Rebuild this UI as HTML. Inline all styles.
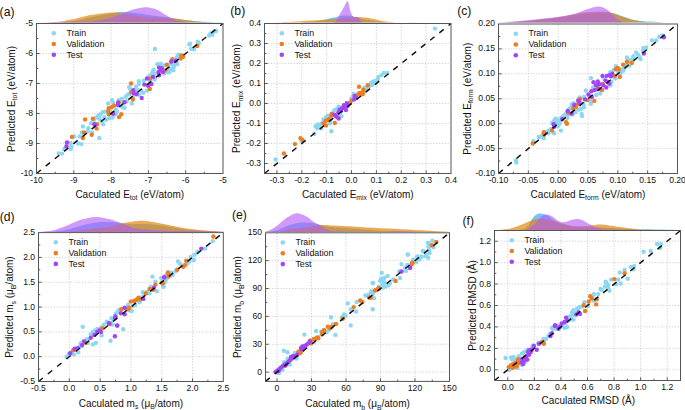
<!DOCTYPE html>
<html><head><meta charset="utf-8"><style>
html,body{margin:0;padding:0;background:#fff;}
body{width:685px;height:410px;overflow:hidden;}
svg{display:block;}
text{font-family:"Liberation Sans", sans-serif;fill:#111;}
</style></head><body>
<svg width="685" height="410" viewBox="0 0 685 410">
<rect width="685" height="410" fill="#fff"/>
<path d="M36.50,22.60 C40.42,22.57 54.42,22.57 60.00,22.40 C65.58,22.23 66.67,21.98 70.00,21.60 C73.33,21.22 75.83,20.93 80.00,20.10 C84.17,19.27 90.33,17.60 95.00,16.60 C99.67,15.60 103.67,14.90 108.00,14.10 C112.33,13.30 116.50,11.97 121.00,11.80 C125.50,11.63 131.00,12.67 135.00,13.10 C139.00,13.53 141.67,13.97 145.00,14.40 C148.33,14.83 150.83,15.13 155.00,15.70 C159.17,16.27 165.00,17.07 170.00,17.80 C175.00,18.53 180.00,19.47 185.00,20.10 C190.00,20.73 193.72,21.20 200.00,21.60 C206.28,22.00 218.92,22.35 222.70,22.50 L222.70,22.60 L36.50,22.60 Z" fill="#1e99ff" fill-opacity="0.6" stroke="none"/>
<path d="M36.50,22.60 C38.75,22.53 45.52,22.43 50.00,22.20 C54.48,21.97 58.40,21.97 63.40,21.20 C68.40,20.43 75.42,18.63 80.00,17.60 C84.58,16.57 86.23,15.82 90.90,15.00 C95.57,14.18 103.23,13.05 108.00,12.70 C112.77,12.35 116.83,12.75 119.50,12.90 C122.17,13.05 121.42,13.13 124.00,13.60 C126.58,14.07 131.50,15.15 135.00,15.70 C138.50,16.25 141.67,16.58 145.00,16.90 C148.33,17.22 151.67,17.45 155.00,17.60 C158.33,17.75 162.33,17.73 165.00,17.80 C167.67,17.87 168.50,17.77 171.00,18.00 C173.50,18.23 176.83,18.77 180.00,19.20 C183.17,19.63 186.67,20.17 190.00,20.60 C193.33,21.03 196.33,21.48 200.00,21.80 C203.67,22.12 208.22,22.37 212.00,22.50 C215.78,22.63 220.92,22.58 222.70,22.60 L222.70,22.60 L36.50,22.60 Z" fill="#e2860c" fill-opacity="0.7" stroke="none"/>
<path d="M36.50,22.50 C39.85,22.40 49.35,22.05 56.60,21.90 C63.85,21.75 73.60,21.75 80.00,21.60 C86.40,21.45 90.33,21.53 95.00,21.00 C99.67,20.47 103.92,19.42 108.00,18.40 C112.08,17.38 116.33,16.00 119.50,14.90 C122.67,13.80 124.42,12.78 127.00,11.80 C129.58,10.82 132.00,9.77 135.00,9.00 C138.00,8.23 141.83,7.27 145.00,7.20 C148.17,7.13 151.40,7.83 154.00,8.60 C156.60,9.37 158.68,10.77 160.60,11.80 C162.52,12.83 163.78,13.78 165.50,14.80 C167.22,15.82 169.15,16.97 170.90,17.90 C172.65,18.83 173.98,19.75 176.00,20.40 C178.02,21.05 179.83,21.43 183.00,21.80 C186.17,22.17 188.38,22.47 195.00,22.60 C201.62,22.73 218.08,22.60 222.70,22.60 L222.70,22.60 L36.50,22.60 Z" fill="#b157f7" fill-opacity="0.6" stroke="none"/>
<path d="M73.80,24.00V170.00M111.10,24.00V170.00M148.40,24.00V170.00M185.70,24.00V170.00M40.00,143.50H222.50M40.00,113.50H222.50M40.00,83.50H222.50M40.00,53.50H222.50" stroke="#c8c8c8" stroke-width="0.8" stroke-dasharray="1.3 1.55" fill="none"/>
<circle cx="58.8" cy="153.4" r="2.2" fill="#8dd7f2"/>
<circle cx="62.1" cy="153.6" r="2.2" fill="#8dd7f2"/>
<circle cx="64.3" cy="149.0" r="2.2" fill="#8dd7f2"/>
<circle cx="70.3" cy="143.0" r="2.2" fill="#8dd7f2"/>
<circle cx="71.4" cy="146.8" r="2.2" fill="#8dd7f2"/>
<circle cx="70.8" cy="149.0" r="2.2" fill="#8dd7f2"/>
<circle cx="78.0" cy="143.5" r="2.2" fill="#8dd7f2"/>
<circle cx="81.3" cy="144.1" r="2.2" fill="#8dd7f2"/>
<circle cx="74.1" cy="136.4" r="2.2" fill="#8dd7f2"/>
<circle cx="79.6" cy="136.4" r="2.2" fill="#8dd7f2"/>
<circle cx="81.8" cy="132.5" r="2.2" fill="#8dd7f2"/>
<circle cx="82.9" cy="126.5" r="2.2" fill="#8dd7f2"/>
<circle cx="88.4" cy="128.2" r="2.2" fill="#8dd7f2"/>
<circle cx="87.8" cy="131.5" r="2.2" fill="#8dd7f2"/>
<circle cx="92.2" cy="132.5" r="2.2" fill="#8dd7f2"/>
<circle cx="91.1" cy="123.2" r="2.2" fill="#8dd7f2"/>
<circle cx="93.9" cy="119.9" r="2.2" fill="#8dd7f2"/>
<circle cx="99.4" cy="138.0" r="2.2" fill="#8dd7f2"/>
<circle cx="129.1" cy="87.1" r="2.2" fill="#8dd7f2"/>
<circle cx="154.9" cy="49.0" r="2.2" fill="#8dd7f2"/>
<circle cx="190.0" cy="43.8" r="2.2" fill="#8dd7f2"/>
<circle cx="191.1" cy="48.7" r="2.2" fill="#8dd7f2"/>
<circle cx="193.9" cy="49.3" r="2.2" fill="#8dd7f2"/>
<circle cx="197.7" cy="41.6" r="2.2" fill="#8dd7f2"/>
<circle cx="198.8" cy="43.2" r="2.2" fill="#8dd7f2"/>
<circle cx="209.2" cy="35.5" r="2.2" fill="#8dd7f2"/>
<circle cx="178.5" cy="54.7" r="2.2" fill="#8dd7f2"/>
<circle cx="181.8" cy="55.3" r="2.2" fill="#8dd7f2"/>
<circle cx="176.3" cy="61.3" r="2.2" fill="#8dd7f2"/>
<circle cx="177.4" cy="64.1" r="2.2" fill="#8dd7f2"/>
<circle cx="210.6" cy="33.5" r="2.2" fill="#8dd7f2"/>
<circle cx="212.3" cy="34.8" r="2.2" fill="#8dd7f2"/>
<circle cx="214.0" cy="31.4" r="2.2" fill="#8dd7f2"/>
<circle cx="216.1" cy="31.0" r="2.2" fill="#8dd7f2"/>
<circle cx="160.7" cy="63.7" r="2.2" fill="#8dd7f2"/>
<circle cx="163.5" cy="65.4" r="2.2" fill="#8dd7f2"/>
<circle cx="153.6" cy="69.8" r="2.2" fill="#8dd7f2"/>
<circle cx="152.5" cy="72.0" r="2.2" fill="#8dd7f2"/>
<circle cx="154.7" cy="73.6" r="2.2" fill="#8dd7f2"/>
<circle cx="151.4" cy="74.7" r="2.2" fill="#8dd7f2"/>
<circle cx="149.2" cy="76.3" r="2.2" fill="#8dd7f2"/>
<circle cx="150.3" cy="80.2" r="2.2" fill="#8dd7f2"/>
<circle cx="154.7" cy="79.6" r="2.2" fill="#8dd7f2"/>
<circle cx="143.7" cy="80.7" r="2.2" fill="#8dd7f2"/>
<circle cx="138.8" cy="81.3" r="2.2" fill="#8dd7f2"/>
<circle cx="138.8" cy="84.0" r="2.2" fill="#8dd7f2"/>
<circle cx="136.0" cy="86.8" r="2.2" fill="#8dd7f2"/>
<circle cx="141.0" cy="90.6" r="2.2" fill="#8dd7f2"/>
<circle cx="147.0" cy="90.6" r="2.2" fill="#8dd7f2"/>
<circle cx="143.2" cy="92.8" r="2.2" fill="#8dd7f2"/>
<circle cx="167.9" cy="69.2" r="2.2" fill="#8dd7f2"/>
<circle cx="169.5" cy="72.0" r="2.2" fill="#8dd7f2"/>
<circle cx="173.9" cy="66.5" r="2.2" fill="#8dd7f2"/>
<circle cx="173.4" cy="70.3" r="2.2" fill="#8dd7f2"/>
<circle cx="164.0" cy="73.6" r="2.2" fill="#8dd7f2"/>
<circle cx="157.4" cy="64.3" r="2.2" fill="#8dd7f2"/>
<circle cx="170.6" cy="63.2" r="2.2" fill="#8dd7f2"/>
<circle cx="173.4" cy="63.2" r="2.2" fill="#8dd7f2"/>
<circle cx="96.1" cy="117.6" r="2.2" fill="#8dd7f2"/>
<circle cx="98.3" cy="115.4" r="2.2" fill="#8dd7f2"/>
<circle cx="100.5" cy="114.3" r="2.2" fill="#8dd7f2"/>
<circle cx="99.4" cy="118.7" r="2.2" fill="#8dd7f2"/>
<circle cx="102.7" cy="112.1" r="2.2" fill="#8dd7f2"/>
<circle cx="104.9" cy="111.6" r="2.2" fill="#8dd7f2"/>
<circle cx="101.6" cy="120.9" r="2.2" fill="#8dd7f2"/>
<circle cx="103.2" cy="124.2" r="2.2" fill="#8dd7f2"/>
<circle cx="104.3" cy="117.1" r="2.2" fill="#8dd7f2"/>
<circle cx="106.0" cy="119.8" r="2.2" fill="#8dd7f2"/>
<circle cx="109.3" cy="118.2" r="2.2" fill="#8dd7f2"/>
<circle cx="112.6" cy="117.6" r="2.2" fill="#8dd7f2"/>
<circle cx="108.2" cy="103.4" r="2.2" fill="#8dd7f2"/>
<circle cx="112.0" cy="100.1" r="2.2" fill="#8dd7f2"/>
<circle cx="113.1" cy="102.8" r="2.2" fill="#8dd7f2"/>
<circle cx="115.9" cy="109.4" r="2.2" fill="#8dd7f2"/>
<circle cx="117.0" cy="111.6" r="2.2" fill="#8dd7f2"/>
<circle cx="115.9" cy="114.3" r="2.2" fill="#8dd7f2"/>
<circle cx="118.6" cy="100.1" r="2.2" fill="#8dd7f2"/>
<circle cx="121.9" cy="99.0" r="2.2" fill="#8dd7f2"/>
<circle cx="122.4" cy="107.2" r="2.2" fill="#8dd7f2"/>
<circle cx="124.6" cy="107.8" r="2.2" fill="#8dd7f2"/>
<circle cx="125.7" cy="96.8" r="2.2" fill="#8dd7f2"/>
<circle cx="127.9" cy="94.6" r="2.2" fill="#8dd7f2"/>
<circle cx="126.8" cy="101.2" r="2.2" fill="#8dd7f2"/>
<circle cx="130.1" cy="89.1" r="2.2" fill="#8dd7f2"/>
<circle cx="129.6" cy="94.0" r="2.2" fill="#8dd7f2"/>
<circle cx="131.8" cy="103.4" r="2.2" fill="#8dd7f2"/>
<circle cx="132.9" cy="97.9" r="2.2" fill="#8dd7f2"/>
<circle cx="136.7" cy="94.6" r="2.2" fill="#8dd7f2"/>
<circle cx="137.8" cy="90.2" r="2.2" fill="#8dd7f2"/>
<circle cx="138.9" cy="94.6" r="2.2" fill="#8dd7f2"/>
<circle cx="122.4" cy="102.3" r="2.2" fill="#8dd7f2"/>
<circle cx="120.8" cy="105.6" r="2.2" fill="#8dd7f2"/>
<circle cx="110.4" cy="112.1" r="2.2" fill="#8dd7f2"/>
<circle cx="176.7" cy="57.6" r="2.2" fill="#8dd7f2"/>
<circle cx="177.7" cy="55.6" r="2.2" fill="#8dd7f2"/>
<circle cx="174.8" cy="63.4" r="2.2" fill="#8dd7f2"/>
<circle cx="170.9" cy="64.4" r="2.2" fill="#8dd7f2"/>
<circle cx="172.8" cy="69.3" r="2.2" fill="#8dd7f2"/>
<circle cx="167.0" cy="71.2" r="2.2" fill="#8dd7f2"/>
<circle cx="167.9" cy="72.2" r="2.2" fill="#8dd7f2"/>
<circle cx="170.4" cy="69.3" r="2.2" fill="#8dd7f2"/>
<circle cx="189.4" cy="44.4" r="2.2" fill="#8dd7f2"/>
<circle cx="85.1" cy="119.4" r="2.2" fill="#ee7d22"/>
<circle cx="92.8" cy="118.8" r="2.2" fill="#ee7d22"/>
<circle cx="71.9" cy="136.9" r="2.2" fill="#ee7d22"/>
<circle cx="84.0" cy="132.5" r="2.2" fill="#ee7d22"/>
<circle cx="82.9" cy="138.0" r="2.2" fill="#ee7d22"/>
<circle cx="91.7" cy="134.7" r="2.2" fill="#ee7d22"/>
<circle cx="197.2" cy="46.0" r="2.2" fill="#ee7d22"/>
<circle cx="181.3" cy="55.8" r="2.2" fill="#ee7d22"/>
<circle cx="182.9" cy="56.9" r="2.2" fill="#ee7d22"/>
<circle cx="180.7" cy="58.6" r="2.2" fill="#ee7d22"/>
<circle cx="166.8" cy="64.8" r="2.2" fill="#ee7d22"/>
<circle cx="165.1" cy="70.3" r="2.2" fill="#ee7d22"/>
<circle cx="172.3" cy="59.3" r="2.2" fill="#ee7d22"/>
<circle cx="150.3" cy="78.5" r="2.2" fill="#ee7d22"/>
<circle cx="149.8" cy="89.0" r="2.2" fill="#ee7d22"/>
<circle cx="131.1" cy="83.5" r="2.2" fill="#ee7d22"/>
<circle cx="108.7" cy="108.3" r="2.2" fill="#ee7d22"/>
<circle cx="111.5" cy="107.2" r="2.2" fill="#ee7d22"/>
<circle cx="114.2" cy="105.6" r="2.2" fill="#ee7d22"/>
<circle cx="108.2" cy="111.1" r="2.2" fill="#ee7d22"/>
<circle cx="108.7" cy="114.3" r="2.2" fill="#ee7d22"/>
<circle cx="118.6" cy="102.3" r="2.2" fill="#ee7d22"/>
<circle cx="121.3" cy="114.3" r="2.2" fill="#ee7d22"/>
<circle cx="119.1" cy="117.1" r="2.2" fill="#ee7d22"/>
<circle cx="132.9" cy="99.5" r="2.2" fill="#ee7d22"/>
<circle cx="131.2" cy="92.4" r="2.2" fill="#ee7d22"/>
<circle cx="97.2" cy="124.2" r="2.2" fill="#ee7d22"/>
<circle cx="96.6" cy="128.6" r="2.2" fill="#ee7d22"/>
<circle cx="67.0" cy="142.4" r="2.2" fill="#a345f5"/>
<circle cx="66.5" cy="146.3" r="2.2" fill="#a345f5"/>
<circle cx="94.4" cy="124.3" r="2.2" fill="#a345f5"/>
<circle cx="141.7" cy="98.0" r="2.2" fill="#a345f5"/>
<circle cx="175.8" cy="60.8" r="2.2" fill="#a345f5"/>
<circle cx="159.1" cy="67.6" r="2.2" fill="#a345f5"/>
<circle cx="161.8" cy="68.1" r="2.2" fill="#a345f5"/>
<circle cx="160.7" cy="70.3" r="2.2" fill="#a345f5"/>
<circle cx="158.5" cy="72.0" r="2.2" fill="#a345f5"/>
<circle cx="159.1" cy="75.2" r="2.2" fill="#a345f5"/>
<circle cx="162.9" cy="72.0" r="2.2" fill="#a345f5"/>
<circle cx="153.1" cy="76.9" r="2.2" fill="#a345f5"/>
<circle cx="147.0" cy="78.5" r="2.2" fill="#a345f5"/>
<circle cx="144.3" cy="84.6" r="2.2" fill="#a345f5"/>
<circle cx="148.1" cy="85.7" r="2.2" fill="#a345f5"/>
<circle cx="151.4" cy="84.0" r="2.2" fill="#a345f5"/>
<circle cx="171.2" cy="61.5" r="2.2" fill="#a345f5"/>
<circle cx="118.1" cy="102.8" r="2.2" fill="#a345f5"/>
<circle cx="118.1" cy="105.0" r="2.2" fill="#a345f5"/>
<circle cx="124.6" cy="102.3" r="2.2" fill="#a345f5"/>
<circle cx="113.1" cy="113.8" r="2.2" fill="#a345f5"/>
<circle cx="133.4" cy="90.2" r="2.2" fill="#a345f5"/>
<circle cx="134.0" cy="93.5" r="2.2" fill="#a345f5"/>
<circle cx="136.7" cy="94.0" r="2.2" fill="#a345f5"/>
<circle cx="95.0" cy="124.8" r="2.2" fill="#a345f5"/>
<line x1="36.50" y1="173.50" x2="223.00" y2="23.50" stroke="#111" stroke-width="1.5" stroke-dasharray="5.6 6.19"/>
<rect x="36.50" y="23.50" width="186.50" height="150.00" fill="none" stroke="#555555" stroke-width="1"/>
<path d="M55.15,173.50V171.70M73.80,173.50V170.30M92.45,173.50V171.70M111.10,173.50V170.30M129.75,173.50V171.70M148.40,173.50V170.30M167.05,173.50V171.70M185.70,173.50V170.30M204.35,173.50V171.70M36.50,158.50H38.30M36.50,143.50H39.70M36.50,128.50H38.30M36.50,113.50H39.70M36.50,98.50H38.30M36.50,83.50H39.70M36.50,68.50H38.30M36.50,53.50H39.70M36.50,38.50H38.30" stroke="#555555" stroke-width="1" fill="none"/>
<text x="36.50" y="183.30" text-anchor="middle" font-size="8.6">-10</text>
<text x="73.80" y="183.30" text-anchor="middle" font-size="8.6">-9</text>
<text x="111.10" y="183.30" text-anchor="middle" font-size="8.6">-8</text>
<text x="148.40" y="183.30" text-anchor="middle" font-size="8.6">-7</text>
<text x="185.70" y="183.30" text-anchor="middle" font-size="8.6">-6</text>
<text x="223.00" y="183.30" text-anchor="middle" font-size="8.6">-5</text>
<text x="33.10" y="175.95" text-anchor="end" font-size="8.6">-10</text>
<text x="33.10" y="145.95" text-anchor="end" font-size="8.6">-9</text>
<text x="33.10" y="115.95" text-anchor="end" font-size="8.6">-8</text>
<text x="33.10" y="85.95" text-anchor="end" font-size="8.6">-7</text>
<text x="33.10" y="55.95" text-anchor="end" font-size="8.6">-6</text>
<text x="33.10" y="25.95" text-anchor="end" font-size="8.6">-5</text>
<text x="129.75" y="197.50" text-anchor="middle" font-size="10"><tspan>Caculated E</tspan><tspan font-size="6.8" dy="2.5">tot</tspan><tspan dy="-2.5"> (eV/atom)</tspan></text>
<text x="14.70" y="99.00" text-anchor="middle" font-size="10" transform="rotate(-90 14.70 99.00)"><tspan>Predicted E</tspan><tspan font-size="6.8" dy="2.5">tot</tspan><tspan dy="-2.5"> (eV/atom)</tspan></text>
<text x="-0.40" y="16.10" font-size="12.2">(a)</text>
<circle cx="53.80" cy="33.20" r="2.3" fill="#8dd7f2"/>
<text x="66.40" y="35.90" font-size="8.8">Train</text>
<circle cx="53.80" cy="44.00" r="2.3" fill="#ee7d22"/>
<text x="66.40" y="46.70" font-size="8.8">Validation</text>
<circle cx="53.80" cy="54.80" r="2.3" fill="#a345f5"/>
<text x="66.40" y="57.50" font-size="8.8">Test</text>
<path d="M264.60,22.60 C269.67,22.60 287.43,22.68 295.00,22.60 C302.57,22.52 305.83,22.40 310.00,22.10 C314.17,21.80 316.08,21.55 320.00,20.80 C323.92,20.05 330.17,18.42 333.50,17.60 C336.83,16.78 337.75,16.25 340.00,15.90 C342.25,15.55 345.00,15.47 347.00,15.50 C349.00,15.53 350.67,15.83 352.00,16.10 C353.33,16.37 353.33,16.60 355.00,17.10 C356.67,17.60 358.67,18.42 362.00,19.10 C365.33,19.78 371.17,20.68 375.00,21.20 C378.83,21.72 381.67,21.97 385.00,22.20 C388.33,22.43 383.92,22.53 395.00,22.60 C406.08,22.67 442.08,22.60 451.50,22.60 L451.50,22.60 L264.60,22.60 Z" fill="#1e99ff" fill-opacity="0.6" stroke="none"/>
<path d="M264.60,22.60 C265.83,22.60 268.60,22.68 272.00,22.60 C275.40,22.52 280.33,22.33 285.00,22.10 C289.67,21.87 294.17,21.53 300.00,21.20 C305.83,20.87 315.00,20.42 320.00,20.10 C325.00,19.78 325.83,19.63 330.00,19.30 C334.17,18.97 340.25,18.48 345.00,18.10 C349.75,17.72 354.33,16.98 358.50,17.00 C362.67,17.02 366.75,17.72 370.00,18.20 C373.25,18.68 375.33,19.33 378.00,19.90 C380.67,20.47 383.33,21.17 386.00,21.60 C388.67,22.03 391.67,22.33 394.00,22.50 C396.33,22.67 390.42,22.58 400.00,22.60 C409.58,22.62 442.92,22.60 451.50,22.60 L451.50,22.60 L264.60,22.60 Z" fill="#e2860c" fill-opacity="0.7" stroke="none"/>
<path d="M264.60,22.60 C274.67,22.60 313.27,22.72 325.00,22.60 C336.73,22.48 332.92,22.48 335.00,21.90 C337.08,21.32 336.82,20.15 337.50,19.10 C338.18,18.05 338.35,17.02 339.10,15.60 C339.85,14.18 341.02,12.35 342.00,10.60 C342.98,8.85 344.12,6.70 345.00,5.10 C345.88,3.50 346.63,1.08 347.30,1.00 C347.97,0.92 348.52,3.00 349.00,4.60 C349.48,6.20 349.65,8.77 350.20,10.60 C350.75,12.43 351.67,14.55 352.30,15.60 C352.93,16.65 353.22,16.72 354.00,16.90 C354.78,17.08 356.17,16.50 357.00,16.70 C357.83,16.90 358.18,17.23 359.00,18.10 C359.82,18.97 360.40,21.15 361.90,21.90 C363.40,22.65 353.07,22.48 368.00,22.60 C382.93,22.72 437.58,22.60 451.50,22.60 L451.50,22.60 L264.60,22.60 Z" fill="#b157f7" fill-opacity="0.6" stroke="none"/>
<path d="M276.93,24.00V170.00M301.80,24.00V170.00M326.67,24.00V170.00M351.53,24.00V170.00M376.40,24.00V170.00M401.27,24.00V170.00M426.13,24.00V170.00M268.00,163.50H450.50M268.00,143.50H450.50M268.00,123.50H450.50M268.00,103.50H450.50M268.00,83.50H450.50M268.00,63.50H450.50M268.00,43.50H450.50" stroke="#c8c8c8" stroke-width="0.8" stroke-dasharray="1.3 1.55" fill="none"/>
<circle cx="275.6" cy="159.5" r="2.2" fill="#8dd7f2"/>
<circle cx="301.5" cy="140.7" r="2.2" fill="#8dd7f2"/>
<circle cx="383.7" cy="72.9" r="2.2" fill="#8dd7f2"/>
<circle cx="387.3" cy="72.9" r="2.2" fill="#8dd7f2"/>
<circle cx="381.5" cy="75.1" r="2.2" fill="#8dd7f2"/>
<circle cx="434.9" cy="28.6" r="2.2" fill="#8dd7f2"/>
<circle cx="314.3" cy="133.7" r="2.2" fill="#8dd7f2"/>
<circle cx="315.7" cy="126.3" r="2.2" fill="#8dd7f2"/>
<circle cx="317.7" cy="124.4" r="2.2" fill="#8dd7f2"/>
<circle cx="319.6" cy="126.3" r="2.2" fill="#8dd7f2"/>
<circle cx="317.2" cy="128.3" r="2.2" fill="#8dd7f2"/>
<circle cx="321.6" cy="123.4" r="2.2" fill="#8dd7f2"/>
<circle cx="321.1" cy="128.3" r="2.2" fill="#8dd7f2"/>
<circle cx="323.5" cy="119.5" r="2.2" fill="#8dd7f2"/>
<circle cx="326.0" cy="117.1" r="2.2" fill="#8dd7f2"/>
<circle cx="327.9" cy="115.6" r="2.2" fill="#8dd7f2"/>
<circle cx="327.0" cy="118.5" r="2.2" fill="#8dd7f2"/>
<circle cx="329.9" cy="123.4" r="2.2" fill="#8dd7f2"/>
<circle cx="331.3" cy="131.2" r="2.2" fill="#8dd7f2"/>
<circle cx="334.3" cy="110.2" r="2.2" fill="#8dd7f2"/>
<circle cx="337.2" cy="108.8" r="2.2" fill="#8dd7f2"/>
<circle cx="338.7" cy="106.8" r="2.2" fill="#8dd7f2"/>
<circle cx="341.6" cy="116.1" r="2.2" fill="#8dd7f2"/>
<circle cx="330.4" cy="121.0" r="2.2" fill="#8dd7f2"/>
<circle cx="371.2" cy="82.8" r="2.2" fill="#8dd7f2"/>
<circle cx="373.2" cy="81.8" r="2.2" fill="#8dd7f2"/>
<circle cx="375.1" cy="80.9" r="2.2" fill="#8dd7f2"/>
<circle cx="377.6" cy="79.4" r="2.2" fill="#8dd7f2"/>
<circle cx="378.5" cy="77.0" r="2.2" fill="#8dd7f2"/>
<circle cx="369.3" cy="85.7" r="2.2" fill="#8dd7f2"/>
<circle cx="366.3" cy="88.7" r="2.2" fill="#8dd7f2"/>
<circle cx="364.9" cy="91.1" r="2.2" fill="#8dd7f2"/>
<circle cx="353.7" cy="94.0" r="2.2" fill="#8dd7f2"/>
<circle cx="352.7" cy="97.0" r="2.2" fill="#8dd7f2"/>
<circle cx="351.2" cy="98.9" r="2.2" fill="#8dd7f2"/>
<circle cx="340.0" cy="113.5" r="2.2" fill="#8dd7f2"/>
<circle cx="364.4" cy="87.7" r="2.2" fill="#8dd7f2"/>
<circle cx="372.2" cy="84.8" r="2.2" fill="#8dd7f2"/>
<circle cx="374.1" cy="83.3" r="2.2" fill="#8dd7f2"/>
<circle cx="376.1" cy="82.3" r="2.2" fill="#8dd7f2"/>
<circle cx="283.9" cy="153.5" r="2.2" fill="#ee7d22"/>
<circle cx="294.9" cy="144.1" r="2.2" fill="#ee7d22"/>
<circle cx="300.4" cy="138.1" r="2.2" fill="#ee7d22"/>
<circle cx="302.5" cy="140.0" r="2.2" fill="#ee7d22"/>
<circle cx="323.5" cy="123.4" r="2.2" fill="#ee7d22"/>
<circle cx="325.5" cy="121.0" r="2.2" fill="#ee7d22"/>
<circle cx="327.4" cy="120.0" r="2.2" fill="#ee7d22"/>
<circle cx="326.0" cy="125.4" r="2.2" fill="#ee7d22"/>
<circle cx="329.4" cy="119.0" r="2.2" fill="#ee7d22"/>
<circle cx="331.3" cy="115.6" r="2.2" fill="#ee7d22"/>
<circle cx="331.8" cy="113.7" r="2.2" fill="#ee7d22"/>
<circle cx="334.8" cy="122.9" r="2.2" fill="#ee7d22"/>
<circle cx="359.0" cy="86.7" r="2.2" fill="#ee7d22"/>
<circle cx="367.8" cy="85.2" r="2.2" fill="#ee7d22"/>
<circle cx="363.4" cy="89.6" r="2.2" fill="#ee7d22"/>
<circle cx="362.4" cy="92.1" r="2.2" fill="#ee7d22"/>
<circle cx="359.5" cy="93.0" r="2.2" fill="#ee7d22"/>
<circle cx="358.0" cy="94.5" r="2.2" fill="#ee7d22"/>
<circle cx="361.0" cy="94.5" r="2.2" fill="#ee7d22"/>
<circle cx="362.9" cy="94.0" r="2.2" fill="#ee7d22"/>
<circle cx="351.7" cy="100.4" r="2.2" fill="#ee7d22"/>
<circle cx="349.8" cy="103.3" r="2.2" fill="#ee7d22"/>
<circle cx="334.3" cy="114.6" r="2.2" fill="#a345f5"/>
<circle cx="335.7" cy="116.1" r="2.2" fill="#a345f5"/>
<circle cx="338.7" cy="118.5" r="2.2" fill="#a345f5"/>
<circle cx="338.2" cy="112.7" r="2.2" fill="#a345f5"/>
<circle cx="339.6" cy="109.8" r="2.2" fill="#a345f5"/>
<circle cx="337.2" cy="117.1" r="2.2" fill="#a345f5"/>
<circle cx="354.6" cy="96.0" r="2.2" fill="#a345f5"/>
<circle cx="354.1" cy="99.4" r="2.2" fill="#a345f5"/>
<circle cx="356.1" cy="97.9" r="2.2" fill="#a345f5"/>
<circle cx="346.8" cy="103.3" r="2.2" fill="#a345f5"/>
<circle cx="343.9" cy="105.2" r="2.2" fill="#a345f5"/>
<circle cx="342.0" cy="108.2" r="2.2" fill="#a345f5"/>
<circle cx="344.9" cy="108.2" r="2.2" fill="#a345f5"/>
<circle cx="347.3" cy="106.2" r="2.2" fill="#a345f5"/>
<circle cx="341.0" cy="111.1" r="2.2" fill="#a345f5"/>
<circle cx="345.9" cy="110.1" r="2.2" fill="#a345f5"/>
<line x1="264.50" y1="173.50" x2="451.00" y2="23.50" stroke="#111" stroke-width="1.5" stroke-dasharray="5.6 6.21"/>
<rect x="264.50" y="23.50" width="186.50" height="150.00" fill="none" stroke="#555555" stroke-width="1"/>
<path d="M276.93,173.50V170.30M289.37,173.50V171.70M301.80,173.50V170.30M314.23,173.50V171.70M326.67,173.50V170.30M339.10,173.50V171.70M351.53,173.50V170.30M363.97,173.50V171.70M376.40,173.50V170.30M388.83,173.50V171.70M401.27,173.50V170.30M413.70,173.50V171.70M426.13,173.50V170.30M438.57,173.50V171.70M264.50,163.50H267.70M264.50,153.50H266.30M264.50,143.50H267.70M264.50,133.50H266.30M264.50,123.50H267.70M264.50,113.50H266.30M264.50,103.50H267.70M264.50,93.50H266.30M264.50,83.50H267.70M264.50,73.50H266.30M264.50,63.50H267.70M264.50,53.50H266.30M264.50,43.50H267.70M264.50,33.50H266.30" stroke="#555555" stroke-width="1" fill="none"/>
<text x="276.93" y="183.30" text-anchor="middle" font-size="8.6">-0.3</text>
<text x="301.80" y="183.30" text-anchor="middle" font-size="8.6">-0.2</text>
<text x="326.67" y="183.30" text-anchor="middle" font-size="8.6">-0.1</text>
<text x="351.53" y="183.30" text-anchor="middle" font-size="8.6">0.0</text>
<text x="376.40" y="183.30" text-anchor="middle" font-size="8.6">0.1</text>
<text x="401.27" y="183.30" text-anchor="middle" font-size="8.6">0.2</text>
<text x="426.13" y="183.30" text-anchor="middle" font-size="8.6">0.3</text>
<text x="451.00" y="183.30" text-anchor="middle" font-size="8.6">0.4</text>
<text x="261.10" y="165.95" text-anchor="end" font-size="8.6">-0.3</text>
<text x="261.10" y="145.95" text-anchor="end" font-size="8.6">-0.2</text>
<text x="261.10" y="125.95" text-anchor="end" font-size="8.6">-0.1</text>
<text x="261.10" y="105.95" text-anchor="end" font-size="8.6">0.0</text>
<text x="261.10" y="85.95" text-anchor="end" font-size="8.6">0.1</text>
<text x="261.10" y="65.95" text-anchor="end" font-size="8.6">0.2</text>
<text x="261.10" y="45.95" text-anchor="end" font-size="8.6">0.3</text>
<text x="261.10" y="25.95" text-anchor="end" font-size="8.6">0.4</text>
<text x="357.75" y="197.80" text-anchor="middle" font-size="10"><tspan>Caculated E</tspan><tspan font-size="6.8" dy="2.5">mix</tspan><tspan dy="-2.5"> (eV/atom)</tspan></text>
<text x="240.20" y="98.50" text-anchor="middle" font-size="10" transform="rotate(-90 240.20 98.50)"><tspan>Predicted E</tspan><tspan font-size="6.8" dy="2.5">mix</tspan><tspan dy="-2.5"> (eV/atom)</tspan></text>
<text x="230.30" y="14.80" font-size="12.2">(b)</text>
<circle cx="281.80" cy="33.20" r="2.3" fill="#8dd7f2"/>
<text x="294.40" y="35.90" font-size="8.8">Train</text>
<circle cx="281.80" cy="44.00" r="2.3" fill="#ee7d22"/>
<text x="294.40" y="46.70" font-size="8.8">Validation</text>
<circle cx="281.80" cy="54.80" r="2.3" fill="#a345f5"/>
<text x="294.40" y="57.50" font-size="8.8">Test</text>
<path d="M498.40,22.60 C502.00,22.47 513.07,22.22 520.00,21.80 C526.93,21.38 533.33,20.80 540.00,20.10 C546.67,19.40 553.33,18.55 560.00,17.60 C566.67,16.65 573.67,15.23 580.00,14.40 C586.33,13.57 592.67,12.82 598.00,12.60 C603.33,12.38 608.00,12.52 612.00,13.10 C616.00,13.68 618.33,14.97 622.00,16.10 C625.67,17.23 629.33,18.98 634.00,19.90 C638.67,20.82 644.83,21.18 650.00,21.60 C655.17,22.02 660.42,22.23 665.00,22.40 C669.58,22.57 675.42,22.57 677.50,22.60 L677.50,22.60 L498.40,22.60 Z" fill="#1e99ff" fill-opacity="0.6" stroke="none"/>
<path d="M498.40,22.60 C502.00,22.43 513.07,22.10 520.00,21.60 C526.93,21.10 533.33,20.38 540.00,19.60 C546.67,18.82 554.17,17.83 560.00,16.90 C565.83,15.97 570.00,14.80 575.00,14.00 C580.00,13.20 585.83,12.47 590.00,12.10 C594.17,11.73 596.58,11.75 600.00,11.80 C603.42,11.85 607.17,11.72 610.50,12.40 C613.83,13.08 616.08,14.58 620.00,15.90 C623.92,17.22 629.83,19.30 634.00,20.30 C638.17,21.30 637.75,21.52 645.00,21.90 C652.25,22.28 672.08,22.48 677.50,22.60 L677.50,22.60 L498.40,22.60 Z" fill="#e2860c" fill-opacity="0.7" stroke="none"/>
<path d="M498.40,22.50 C502.00,22.27 513.07,21.68 520.00,21.10 C526.93,20.52 533.33,19.75 540.00,19.00 C546.67,18.25 554.17,17.48 560.00,16.60 C565.83,15.72 570.33,14.95 575.00,13.70 C579.67,12.45 584.17,10.30 588.00,9.10 C591.83,7.90 595.00,6.53 598.00,6.50 C601.00,6.47 603.92,7.92 606.00,8.90 C608.08,9.88 609.00,11.03 610.50,12.40 C612.00,13.77 613.42,15.67 615.00,17.10 C616.58,18.53 617.83,20.12 620.00,21.00 C622.17,21.88 618.42,22.13 628.00,22.40 C637.58,22.67 669.25,22.57 677.50,22.60 L677.50,22.60 L498.40,22.60 Z" fill="#b157f7" fill-opacity="0.6" stroke="none"/>
<path d="M528.33,24.50V170.00M558.17,24.50V170.00M588.00,24.50V170.00M617.83,24.50V170.00M647.67,24.50V170.00M502.00,148.58H677.00M502.00,123.67H677.00M502.00,98.75H677.00M502.00,73.83H677.00M502.00,48.92H677.00" stroke="#c8c8c8" stroke-width="0.8" stroke-dasharray="1.3 1.55" fill="none"/>
<circle cx="516.0" cy="160.4" r="2.2" fill="#8dd7f2"/>
<circle cx="516.4" cy="162.6" r="2.2" fill="#8dd7f2"/>
<circle cx="533.5" cy="141.3" r="2.2" fill="#8dd7f2"/>
<circle cx="538.7" cy="137.0" r="2.2" fill="#8dd7f2"/>
<circle cx="582.1" cy="116.1" r="2.2" fill="#8dd7f2"/>
<circle cx="652.0" cy="40.4" r="2.2" fill="#8dd7f2"/>
<circle cx="656.3" cy="40.4" r="2.2" fill="#8dd7f2"/>
<circle cx="659.3" cy="36.7" r="2.2" fill="#8dd7f2"/>
<circle cx="646.1" cy="47.7" r="2.2" fill="#8dd7f2"/>
<circle cx="619.8" cy="75.5" r="2.2" fill="#8dd7f2"/>
<circle cx="662.1" cy="35.4" r="2.2" fill="#8dd7f2"/>
<circle cx="596.2" cy="95.0" r="2.2" fill="#8dd7f2"/>
<circle cx="590.4" cy="101.3" r="2.2" fill="#8dd7f2"/>
<circle cx="590.9" cy="103.8" r="2.2" fill="#8dd7f2"/>
<circle cx="584.0" cy="97.0" r="2.2" fill="#8dd7f2"/>
<circle cx="583.5" cy="104.3" r="2.2" fill="#8dd7f2"/>
<circle cx="584.0" cy="107.2" r="2.2" fill="#8dd7f2"/>
<circle cx="581.1" cy="108.7" r="2.2" fill="#8dd7f2"/>
<circle cx="578.7" cy="109.6" r="2.2" fill="#8dd7f2"/>
<circle cx="573.8" cy="103.3" r="2.2" fill="#8dd7f2"/>
<circle cx="571.8" cy="104.3" r="2.2" fill="#8dd7f2"/>
<circle cx="575.7" cy="112.1" r="2.2" fill="#8dd7f2"/>
<circle cx="581.6" cy="114.0" r="2.2" fill="#8dd7f2"/>
<circle cx="600.1" cy="93.5" r="2.2" fill="#8dd7f2"/>
<circle cx="579.6" cy="97.4" r="2.2" fill="#8dd7f2"/>
<circle cx="643.4" cy="48.1" r="2.2" fill="#8dd7f2"/>
<circle cx="642.8" cy="50.9" r="2.2" fill="#8dd7f2"/>
<circle cx="636.2" cy="52.5" r="2.2" fill="#8dd7f2"/>
<circle cx="637.9" cy="54.7" r="2.2" fill="#8dd7f2"/>
<circle cx="639.5" cy="56.9" r="2.2" fill="#8dd7f2"/>
<circle cx="640.6" cy="59.1" r="2.2" fill="#8dd7f2"/>
<circle cx="633.5" cy="56.3" r="2.2" fill="#8dd7f2"/>
<circle cx="626.9" cy="57.4" r="2.2" fill="#8dd7f2"/>
<circle cx="628.0" cy="59.6" r="2.2" fill="#8dd7f2"/>
<circle cx="629.6" cy="62.9" r="2.2" fill="#8dd7f2"/>
<circle cx="626.3" cy="66.2" r="2.2" fill="#8dd7f2"/>
<circle cx="624.1" cy="67.9" r="2.2" fill="#8dd7f2"/>
<circle cx="621.4" cy="69.5" r="2.2" fill="#8dd7f2"/>
<circle cx="618.1" cy="71.7" r="2.2" fill="#8dd7f2"/>
<circle cx="620.9" cy="72.8" r="2.2" fill="#8dd7f2"/>
<circle cx="627.0" cy="65.0" r="2.2" fill="#8dd7f2"/>
<circle cx="629.5" cy="65.5" r="2.2" fill="#8dd7f2"/>
<circle cx="631.0" cy="60.5" r="2.2" fill="#8dd7f2"/>
<circle cx="633.0" cy="58.5" r="2.2" fill="#8dd7f2"/>
<circle cx="623.5" cy="70.5" r="2.2" fill="#8dd7f2"/>
<circle cx="540.9" cy="136.6" r="2.2" fill="#8dd7f2"/>
<circle cx="542.6" cy="134.9" r="2.2" fill="#8dd7f2"/>
<circle cx="543.8" cy="138.3" r="2.2" fill="#8dd7f2"/>
<circle cx="546.0" cy="132.3" r="2.2" fill="#8dd7f2"/>
<circle cx="548.5" cy="130.6" r="2.2" fill="#8dd7f2"/>
<circle cx="548.5" cy="133.2" r="2.2" fill="#8dd7f2"/>
<circle cx="551.1" cy="128.9" r="2.2" fill="#8dd7f2"/>
<circle cx="552.0" cy="122.9" r="2.2" fill="#8dd7f2"/>
<circle cx="553.7" cy="121.2" r="2.2" fill="#8dd7f2"/>
<circle cx="554.1" cy="133.2" r="2.2" fill="#8dd7f2"/>
<circle cx="555.4" cy="118.7" r="2.2" fill="#8dd7f2"/>
<circle cx="557.1" cy="119.5" r="2.2" fill="#8dd7f2"/>
<circle cx="556.2" cy="122.9" r="2.2" fill="#8dd7f2"/>
<circle cx="558.4" cy="122.1" r="2.2" fill="#8dd7f2"/>
<circle cx="560.1" cy="121.2" r="2.2" fill="#8dd7f2"/>
<circle cx="559.6" cy="123.8" r="2.2" fill="#8dd7f2"/>
<circle cx="561.3" cy="117.8" r="2.2" fill="#8dd7f2"/>
<circle cx="560.9" cy="130.6" r="2.2" fill="#8dd7f2"/>
<circle cx="563.1" cy="116.1" r="2.2" fill="#8dd7f2"/>
<circle cx="564.8" cy="115.2" r="2.2" fill="#8dd7f2"/>
<circle cx="565.6" cy="117.0" r="2.2" fill="#8dd7f2"/>
<circle cx="566.5" cy="112.7" r="2.2" fill="#8dd7f2"/>
<circle cx="567.3" cy="117.8" r="2.2" fill="#8dd7f2"/>
<circle cx="569.0" cy="114.4" r="2.2" fill="#8dd7f2"/>
<circle cx="568.2" cy="110.1" r="2.2" fill="#8dd7f2"/>
<circle cx="569.9" cy="108.4" r="2.2" fill="#8dd7f2"/>
<circle cx="571.6" cy="106.7" r="2.2" fill="#8dd7f2"/>
<circle cx="573.3" cy="110.1" r="2.2" fill="#8dd7f2"/>
<circle cx="572.5" cy="114.4" r="2.2" fill="#8dd7f2"/>
<circle cx="557.9" cy="126.3" r="2.2" fill="#8dd7f2"/>
<circle cx="591.0" cy="78.1" r="2.2" fill="#8dd7f2"/>
<circle cx="585.8" cy="90.5" r="2.2" fill="#8dd7f2"/>
<circle cx="610.2" cy="72.1" r="2.2" fill="#8dd7f2"/>
<circle cx="613.6" cy="70.0" r="2.2" fill="#8dd7f2"/>
<circle cx="615.7" cy="66.1" r="2.2" fill="#8dd7f2"/>
<circle cx="615.3" cy="78.5" r="2.2" fill="#8dd7f2"/>
<circle cx="611.5" cy="81.9" r="2.2" fill="#8dd7f2"/>
<circle cx="610.2" cy="85.3" r="2.2" fill="#8dd7f2"/>
<circle cx="593.1" cy="87.5" r="2.2" fill="#8dd7f2"/>
<circle cx="604.2" cy="78.5" r="2.2" fill="#8dd7f2"/>
<circle cx="532.8" cy="143.5" r="2.2" fill="#ee7d22"/>
<circle cx="619.8" cy="77.0" r="2.2" fill="#ee7d22"/>
<circle cx="580.1" cy="98.9" r="2.2" fill="#ee7d22"/>
<circle cx="587.4" cy="99.9" r="2.2" fill="#ee7d22"/>
<circle cx="594.3" cy="100.9" r="2.2" fill="#ee7d22"/>
<circle cx="577.7" cy="104.3" r="2.2" fill="#ee7d22"/>
<circle cx="575.7" cy="107.2" r="2.2" fill="#ee7d22"/>
<circle cx="623.1" cy="64.6" r="2.2" fill="#ee7d22"/>
<circle cx="626.9" cy="61.8" r="2.2" fill="#ee7d22"/>
<circle cx="631.8" cy="62.9" r="2.2" fill="#ee7d22"/>
<circle cx="617.6" cy="67.9" r="2.2" fill="#ee7d22"/>
<circle cx="618.7" cy="69.5" r="2.2" fill="#ee7d22"/>
<circle cx="543.8" cy="132.3" r="2.2" fill="#ee7d22"/>
<circle cx="544.3" cy="134.5" r="2.2" fill="#ee7d22"/>
<circle cx="552.0" cy="130.6" r="2.2" fill="#ee7d22"/>
<circle cx="566.0" cy="122.1" r="2.2" fill="#ee7d22"/>
<circle cx="566.9" cy="123.8" r="2.2" fill="#ee7d22"/>
<circle cx="568.2" cy="112.7" r="2.2" fill="#ee7d22"/>
<circle cx="573.3" cy="108.4" r="2.2" fill="#ee7d22"/>
<circle cx="602.5" cy="84.0" r="2.2" fill="#ee7d22"/>
<circle cx="597.8" cy="88.3" r="2.2" fill="#ee7d22"/>
<circle cx="602.1" cy="90.0" r="2.2" fill="#ee7d22"/>
<circle cx="615.7" cy="69.1" r="2.2" fill="#ee7d22"/>
<circle cx="614.5" cy="75.9" r="2.2" fill="#ee7d22"/>
<circle cx="663.9" cy="37.2" r="2.2" fill="#a345f5"/>
<circle cx="588.4" cy="94.5" r="2.2" fill="#a345f5"/>
<circle cx="591.8" cy="97.0" r="2.2" fill="#a345f5"/>
<circle cx="585.0" cy="99.4" r="2.2" fill="#a345f5"/>
<circle cx="578.2" cy="100.4" r="2.2" fill="#a345f5"/>
<circle cx="579.6" cy="102.8" r="2.2" fill="#a345f5"/>
<circle cx="643.9" cy="53.6" r="2.2" fill="#a345f5"/>
<circle cx="553.7" cy="124.2" r="2.2" fill="#a345f5"/>
<circle cx="554.1" cy="126.8" r="2.2" fill="#a345f5"/>
<circle cx="562.2" cy="119.1" r="2.2" fill="#a345f5"/>
<circle cx="567.8" cy="111.0" r="2.2" fill="#a345f5"/>
<circle cx="571.6" cy="113.5" r="2.2" fill="#a345f5"/>
<circle cx="574.2" cy="105.0" r="2.2" fill="#a345f5"/>
<circle cx="602.5" cy="75.9" r="2.2" fill="#a345f5"/>
<circle cx="606.8" cy="75.9" r="2.2" fill="#a345f5"/>
<circle cx="609.3" cy="75.1" r="2.2" fill="#a345f5"/>
<circle cx="612.3" cy="73.8" r="2.2" fill="#a345f5"/>
<circle cx="611.0" cy="76.4" r="2.2" fill="#a345f5"/>
<circle cx="605.5" cy="80.6" r="2.2" fill="#a345f5"/>
<circle cx="607.6" cy="81.9" r="2.2" fill="#a345f5"/>
<circle cx="609.3" cy="83.6" r="2.2" fill="#a345f5"/>
<circle cx="593.5" cy="82.3" r="2.2" fill="#a345f5"/>
<circle cx="597.8" cy="81.5" r="2.2" fill="#a345f5"/>
<circle cx="596.1" cy="85.3" r="2.2" fill="#a345f5"/>
<circle cx="599.1" cy="84.0" r="2.2" fill="#a345f5"/>
<circle cx="603.3" cy="85.3" r="2.2" fill="#a345f5"/>
<circle cx="606.3" cy="87.5" r="2.2" fill="#a345f5"/>
<circle cx="591.4" cy="91.3" r="2.2" fill="#a345f5"/>
<circle cx="594.8" cy="90.0" r="2.2" fill="#a345f5"/>
<circle cx="599.1" cy="88.7" r="2.2" fill="#a345f5"/>
<line x1="498.50" y1="173.50" x2="677.50" y2="24.00" stroke="#111" stroke-width="1.5" stroke-dasharray="5.6 6.12"/>
<rect x="498.50" y="24.00" width="179.00" height="149.50" fill="none" stroke="#555555" stroke-width="1"/>
<path d="M513.42,173.50V171.70M528.33,173.50V170.30M543.25,173.50V171.70M558.17,173.50V170.30M573.08,173.50V171.70M588.00,173.50V170.30M602.92,173.50V171.70M617.83,173.50V170.30M632.75,173.50V171.70M647.67,173.50V170.30M662.58,173.50V171.70M498.50,161.04H500.30M498.50,148.58H501.70M498.50,136.12H500.30M498.50,123.67H501.70M498.50,111.21H500.30M498.50,98.75H501.70M498.50,86.29H500.30M498.50,73.83H501.70M498.50,61.38H500.30M498.50,48.92H501.70M498.50,36.46H500.30" stroke="#555555" stroke-width="1" fill="none"/>
<text x="498.50" y="183.30" text-anchor="middle" font-size="8.6">-0.10</text>
<text x="528.33" y="183.30" text-anchor="middle" font-size="8.6">-0.05</text>
<text x="558.17" y="183.30" text-anchor="middle" font-size="8.6">0.00</text>
<text x="588.00" y="183.30" text-anchor="middle" font-size="8.6">0.05</text>
<text x="617.83" y="183.30" text-anchor="middle" font-size="8.6">0.10</text>
<text x="647.67" y="183.30" text-anchor="middle" font-size="8.6">0.15</text>
<text x="677.50" y="183.30" text-anchor="middle" font-size="8.6">0.20</text>
<text x="495.10" y="175.95" text-anchor="end" font-size="8.6">-0.10</text>
<text x="495.10" y="151.03" text-anchor="end" font-size="8.6">-0.05</text>
<text x="495.10" y="126.12" text-anchor="end" font-size="8.6">0.00</text>
<text x="495.10" y="101.20" text-anchor="end" font-size="8.6">0.05</text>
<text x="495.10" y="76.28" text-anchor="end" font-size="8.6">0.10</text>
<text x="495.10" y="51.37" text-anchor="end" font-size="8.6">0.15</text>
<text x="495.10" y="26.45" text-anchor="end" font-size="8.6">0.20</text>
<text x="588.00" y="197.80" text-anchor="middle" font-size="10"><tspan>Caculated E</tspan><tspan font-size="6.8" dy="2.5">form</tspan><tspan dy="-2.5"> (eV/atom)</tspan></text>
<text x="470.50" y="98.75" text-anchor="middle" font-size="10" transform="rotate(-90 470.50 98.75)"><tspan>Predicted E</tspan><tspan font-size="6.8" dy="2.5">form</tspan><tspan dy="-2.5"> (eV/atom)</tspan></text>
<text x="457.20" y="14.70" font-size="12.2">(c)</text>
<circle cx="515.80" cy="33.70" r="2.3" fill="#8dd7f2"/>
<text x="528.40" y="36.40" font-size="8.8">Train</text>
<circle cx="515.80" cy="44.50" r="2.3" fill="#ee7d22"/>
<text x="528.40" y="47.20" font-size="8.8">Validation</text>
<circle cx="515.80" cy="55.30" r="2.3" fill="#a345f5"/>
<text x="528.40" y="58.00" font-size="8.8">Test</text>
<path d="M38.50,231.90 C41.25,231.82 50.22,231.78 55.00,231.40 C59.78,231.02 62.73,230.60 67.20,229.60 C71.67,228.60 76.93,226.58 81.80,225.40 C86.67,224.22 91.53,223.07 96.40,222.50 C101.27,221.93 106.73,221.88 111.00,222.00 C115.27,222.12 118.50,222.83 122.00,223.20 C125.50,223.57 128.58,224.05 132.00,224.20 C135.42,224.35 138.83,224.03 142.50,224.10 C146.17,224.17 149.62,224.15 154.00,224.60 C158.38,225.05 163.97,226.07 168.80,226.80 C173.63,227.53 177.80,228.37 183.00,229.00 C188.20,229.63 194.67,230.20 200.00,230.60 C205.33,231.00 210.95,231.18 215.00,231.40 C219.05,231.62 222.75,231.82 224.30,231.90 L224.30,231.90 L38.50,231.90 Z" fill="#1e99ff" fill-opacity="0.6" stroke="none"/>
<path d="M38.50,231.90 C43.75,231.82 60.35,232.00 70.00,231.40 C79.65,230.80 89.57,229.13 96.40,228.30 C103.23,227.47 106.57,227.25 111.00,226.40 C115.43,225.55 118.42,224.12 123.00,223.20 C127.58,222.28 133.83,221.13 138.50,220.90 C143.17,220.67 146.42,221.18 151.00,221.80 C155.58,222.42 161.00,223.67 166.00,224.60 C171.00,225.53 175.83,226.55 181.00,227.40 C186.17,228.25 191.25,229.07 197.00,229.70 C202.75,230.33 210.95,230.83 215.50,231.20 C220.05,231.57 222.83,231.78 224.30,231.90 L224.30,231.90 L38.50,231.90 Z" fill="#e2860c" fill-opacity="0.7" stroke="none"/>
<path d="M38.50,231.90 C39.58,231.82 42.65,231.63 45.00,231.40 C47.35,231.17 48.90,231.50 52.60,230.50 C56.30,229.50 62.33,227.22 67.20,225.40 C72.07,223.58 76.93,221.02 81.80,219.60 C86.67,218.18 91.53,216.90 96.40,216.90 C101.27,216.90 106.73,218.48 111.00,219.60 C115.27,220.72 118.35,222.23 122.00,223.60 C125.65,224.97 129.90,226.88 132.90,227.80 C135.90,228.72 136.32,228.70 140.00,229.10 C143.68,229.50 148.33,229.88 155.00,230.20 C161.67,230.52 170.83,230.78 180.00,231.00 C189.17,231.22 202.62,231.35 210.00,231.50 C217.38,231.65 221.92,231.83 224.30,231.90 L224.30,231.90 L38.50,231.90 Z" fill="#b157f7" fill-opacity="0.6" stroke="none"/>
<path d="M69.30,233.10V378.00M100.10,233.10V378.00M130.90,233.10V378.00M161.70,233.10V378.00M192.50,233.10V378.00M42.00,356.68H222.80M42.00,331.87H222.80M42.00,307.05H222.80M42.00,282.23H222.80M42.00,257.42H222.80" stroke="#c8c8c8" stroke-width="0.8" stroke-dasharray="1.3 1.55" fill="none"/>
<circle cx="66.6" cy="356.8" r="2.2" fill="#8dd7f2"/>
<circle cx="68.8" cy="353.9" r="2.2" fill="#8dd7f2"/>
<circle cx="71.7" cy="352.4" r="2.2" fill="#8dd7f2"/>
<circle cx="73.9" cy="354.6" r="2.2" fill="#8dd7f2"/>
<circle cx="75.4" cy="349.5" r="2.2" fill="#8dd7f2"/>
<circle cx="78.3" cy="352.4" r="2.2" fill="#8dd7f2"/>
<circle cx="79.0" cy="347.3" r="2.2" fill="#8dd7f2"/>
<circle cx="82.0" cy="345.9" r="2.2" fill="#8dd7f2"/>
<circle cx="83.4" cy="341.5" r="2.2" fill="#8dd7f2"/>
<circle cx="87.1" cy="339.3" r="2.2" fill="#8dd7f2"/>
<circle cx="87.8" cy="342.9" r="2.2" fill="#8dd7f2"/>
<circle cx="92.9" cy="344.4" r="2.2" fill="#8dd7f2"/>
<circle cx="95.9" cy="342.9" r="2.2" fill="#8dd7f2"/>
<circle cx="82.7" cy="326.8" r="2.2" fill="#8dd7f2"/>
<circle cx="90.7" cy="334.1" r="2.2" fill="#8dd7f2"/>
<circle cx="92.9" cy="332.0" r="2.2" fill="#8dd7f2"/>
<circle cx="95.1" cy="330.5" r="2.2" fill="#8dd7f2"/>
<circle cx="97.3" cy="329.0" r="2.2" fill="#8dd7f2"/>
<circle cx="101.0" cy="327.6" r="2.2" fill="#8dd7f2"/>
<circle cx="101.7" cy="335.6" r="2.2" fill="#8dd7f2"/>
<circle cx="103.9" cy="324.6" r="2.2" fill="#8dd7f2"/>
<circle cx="106.8" cy="321.7" r="2.2" fill="#8dd7f2"/>
<circle cx="110.5" cy="340.7" r="2.2" fill="#8dd7f2"/>
<circle cx="111.2" cy="323.2" r="2.2" fill="#8dd7f2"/>
<circle cx="113.4" cy="319.5" r="2.2" fill="#8dd7f2"/>
<circle cx="115.6" cy="317.3" r="2.2" fill="#8dd7f2"/>
<circle cx="112.7" cy="324.6" r="2.2" fill="#8dd7f2"/>
<circle cx="111.5" cy="318.3" r="2.2" fill="#8dd7f2"/>
<circle cx="123.2" cy="329.3" r="2.2" fill="#8dd7f2"/>
<circle cx="146.6" cy="292.0" r="2.2" fill="#8dd7f2"/>
<circle cx="149.5" cy="293.4" r="2.2" fill="#8dd7f2"/>
<circle cx="152.4" cy="276.6" r="2.2" fill="#8dd7f2"/>
<circle cx="151.0" cy="286.8" r="2.2" fill="#8dd7f2"/>
<circle cx="156.8" cy="291.2" r="2.2" fill="#8dd7f2"/>
<circle cx="155.4" cy="281.7" r="2.2" fill="#8dd7f2"/>
<circle cx="161.2" cy="278.0" r="2.2" fill="#8dd7f2"/>
<circle cx="163.4" cy="286.8" r="2.2" fill="#8dd7f2"/>
<circle cx="165.6" cy="275.9" r="2.2" fill="#8dd7f2"/>
<circle cx="167.8" cy="272.2" r="2.2" fill="#8dd7f2"/>
<circle cx="212.7" cy="241.1" r="2.2" fill="#8dd7f2"/>
<circle cx="205.1" cy="248.6" r="2.2" fill="#8dd7f2"/>
<circle cx="197.5" cy="251.7" r="2.2" fill="#8dd7f2"/>
<circle cx="194.5" cy="254.7" r="2.2" fill="#8dd7f2"/>
<circle cx="190.7" cy="257.0" r="2.2" fill="#8dd7f2"/>
<circle cx="193.8" cy="260.0" r="2.2" fill="#8dd7f2"/>
<circle cx="189.2" cy="261.5" r="2.2" fill="#8dd7f2"/>
<circle cx="177.9" cy="261.5" r="2.2" fill="#8dd7f2"/>
<circle cx="180.1" cy="263.8" r="2.2" fill="#8dd7f2"/>
<circle cx="187.0" cy="263.8" r="2.2" fill="#8dd7f2"/>
<circle cx="175.6" cy="271.3" r="2.2" fill="#8dd7f2"/>
<circle cx="171.1" cy="272.8" r="2.2" fill="#8dd7f2"/>
<circle cx="172.6" cy="275.1" r="2.2" fill="#8dd7f2"/>
<circle cx="166.5" cy="278.9" r="2.2" fill="#8dd7f2"/>
<circle cx="163.5" cy="286.4" r="2.2" fill="#8dd7f2"/>
<circle cx="165.0" cy="281.9" r="2.2" fill="#8dd7f2"/>
<circle cx="80.5" cy="343.4" r="2.2" fill="#8dd7f2"/>
<circle cx="86.6" cy="339.8" r="2.2" fill="#8dd7f2"/>
<circle cx="142.8" cy="292.3" r="2.2" fill="#8dd7f2"/>
<circle cx="144.5" cy="294.0" r="2.2" fill="#8dd7f2"/>
<circle cx="139.5" cy="302.2" r="2.2" fill="#8dd7f2"/>
<circle cx="135.1" cy="304.9" r="2.2" fill="#8dd7f2"/>
<circle cx="132.9" cy="306.0" r="2.2" fill="#8dd7f2"/>
<circle cx="131.8" cy="311.0" r="2.2" fill="#8dd7f2"/>
<circle cx="129.6" cy="310.4" r="2.2" fill="#8dd7f2"/>
<circle cx="119.2" cy="309.9" r="2.2" fill="#8dd7f2"/>
<circle cx="117.6" cy="311.5" r="2.2" fill="#8dd7f2"/>
<circle cx="115.4" cy="314.3" r="2.2" fill="#8dd7f2"/>
<circle cx="128.0" cy="304.9" r="2.2" fill="#8dd7f2"/>
<circle cx="141.7" cy="297.2" r="2.2" fill="#8dd7f2"/>
<circle cx="73.2" cy="350.2" r="2.2" fill="#ee7d22"/>
<circle cx="85.6" cy="342.9" r="2.2" fill="#ee7d22"/>
<circle cx="102.4" cy="328.3" r="2.2" fill="#ee7d22"/>
<circle cx="109.8" cy="323.9" r="2.2" fill="#ee7d22"/>
<circle cx="145.9" cy="293.4" r="2.2" fill="#ee7d22"/>
<circle cx="149.5" cy="289.0" r="2.2" fill="#ee7d22"/>
<circle cx="153.2" cy="289.8" r="2.2" fill="#ee7d22"/>
<circle cx="155.4" cy="284.6" r="2.2" fill="#ee7d22"/>
<circle cx="162.0" cy="282.4" r="2.2" fill="#ee7d22"/>
<circle cx="167.8" cy="273.7" r="2.2" fill="#ee7d22"/>
<circle cx="213.4" cy="236.5" r="2.2" fill="#ee7d22"/>
<circle cx="186.2" cy="260.7" r="2.2" fill="#ee7d22"/>
<circle cx="184.7" cy="265.3" r="2.2" fill="#ee7d22"/>
<circle cx="183.2" cy="266.8" r="2.2" fill="#ee7d22"/>
<circle cx="177.1" cy="269.8" r="2.2" fill="#ee7d22"/>
<circle cx="168.0" cy="272.8" r="2.2" fill="#ee7d22"/>
<circle cx="168.8" cy="276.6" r="2.2" fill="#ee7d22"/>
<circle cx="162.8" cy="283.4" r="2.2" fill="#ee7d22"/>
<circle cx="121.4" cy="309.3" r="2.2" fill="#ee7d22"/>
<circle cx="129.1" cy="307.7" r="2.2" fill="#ee7d22"/>
<circle cx="130.7" cy="301.6" r="2.2" fill="#ee7d22"/>
<circle cx="133.5" cy="301.1" r="2.2" fill="#ee7d22"/>
<circle cx="136.2" cy="300.0" r="2.2" fill="#ee7d22"/>
<circle cx="138.4" cy="297.8" r="2.2" fill="#ee7d22"/>
<circle cx="140.1" cy="299.4" r="2.2" fill="#ee7d22"/>
<circle cx="128.0" cy="309.3" r="2.2" fill="#ee7d22"/>
<circle cx="70.2" cy="353.2" r="2.2" fill="#a345f5"/>
<circle cx="74.6" cy="348.8" r="2.2" fill="#a345f5"/>
<circle cx="77.6" cy="348.1" r="2.2" fill="#a345f5"/>
<circle cx="82.0" cy="345.1" r="2.2" fill="#a345f5"/>
<circle cx="84.1" cy="341.5" r="2.2" fill="#a345f5"/>
<circle cx="90.7" cy="337.8" r="2.2" fill="#a345f5"/>
<circle cx="94.4" cy="334.9" r="2.2" fill="#a345f5"/>
<circle cx="97.3" cy="332.0" r="2.2" fill="#a345f5"/>
<circle cx="99.5" cy="330.5" r="2.2" fill="#a345f5"/>
<circle cx="101.0" cy="332.0" r="2.2" fill="#a345f5"/>
<circle cx="109.0" cy="323.2" r="2.2" fill="#a345f5"/>
<circle cx="117.1" cy="325.4" r="2.2" fill="#a345f5"/>
<circle cx="114.9" cy="336.3" r="2.2" fill="#a345f5"/>
<circle cx="115.1" cy="318.3" r="2.2" fill="#a345f5"/>
<circle cx="117.3" cy="325.6" r="2.2" fill="#a345f5"/>
<circle cx="153.9" cy="287.6" r="2.2" fill="#a345f5"/>
<circle cx="164.1" cy="277.3" r="2.2" fill="#a345f5"/>
<circle cx="201.3" cy="248.6" r="2.2" fill="#a345f5"/>
<circle cx="164.3" cy="277.4" r="2.2" fill="#a345f5"/>
<circle cx="124.7" cy="307.7" r="2.2" fill="#a345f5"/>
<circle cx="120.9" cy="313.2" r="2.2" fill="#a345f5"/>
<circle cx="124.7" cy="314.3" r="2.2" fill="#a345f5"/>
<circle cx="143.4" cy="298.9" r="2.2" fill="#a345f5"/>
<circle cx="115.4" cy="316.5" r="2.2" fill="#a345f5"/>
<line x1="38.50" y1="381.50" x2="223.30" y2="232.60" stroke="#111" stroke-width="1.5" stroke-dasharray="5.6 6.36"/>
<rect x="38.50" y="232.60" width="184.80" height="148.90" fill="none" stroke="#555555" stroke-width="1"/>
<path d="M53.90,381.50V379.70M69.30,381.50V378.30M84.70,381.50V379.70M100.10,381.50V378.30M115.50,381.50V379.70M130.90,381.50V378.30M146.30,381.50V379.70M161.70,381.50V378.30M177.10,381.50V379.70M192.50,381.50V378.30M207.90,381.50V379.70M38.50,369.09H40.30M38.50,356.68H41.70M38.50,344.27H40.30M38.50,331.87H41.70M38.50,319.46H40.30M38.50,307.05H41.70M38.50,294.64H40.30M38.50,282.23H41.70M38.50,269.82H40.30M38.50,257.42H41.70M38.50,245.01H40.30" stroke="#555555" stroke-width="1" fill="none"/>
<text x="38.50" y="391.30" text-anchor="middle" font-size="8.6">-0.5</text>
<text x="69.30" y="391.30" text-anchor="middle" font-size="8.6">0.0</text>
<text x="100.10" y="391.30" text-anchor="middle" font-size="8.6">0.5</text>
<text x="130.90" y="391.30" text-anchor="middle" font-size="8.6">1.0</text>
<text x="161.70" y="391.30" text-anchor="middle" font-size="8.6">1.5</text>
<text x="192.50" y="391.30" text-anchor="middle" font-size="8.6">2.0</text>
<text x="223.30" y="391.30" text-anchor="middle" font-size="8.6">2.5</text>
<text x="35.10" y="383.95" text-anchor="end" font-size="8.6">-0.5</text>
<text x="35.10" y="359.13" text-anchor="end" font-size="8.6">0.0</text>
<text x="35.10" y="334.32" text-anchor="end" font-size="8.6">0.5</text>
<text x="35.10" y="309.50" text-anchor="end" font-size="8.6">1.0</text>
<text x="35.10" y="284.68" text-anchor="end" font-size="8.6">1.5</text>
<text x="35.10" y="259.87" text-anchor="end" font-size="8.6">2.0</text>
<text x="35.10" y="235.05" text-anchor="end" font-size="8.6">2.5</text>
<text x="130.90" y="406.60" text-anchor="middle" font-size="10"><tspan>Caculated m</tspan><tspan font-size="6.8" dy="2.5">s</tspan><tspan dy="-2.5"> (μ</tspan><tspan font-size="6.8" dy="2.5">B</tspan><tspan dy="-2.5">/atom)</tspan></text>
<text x="13.40" y="307.05" text-anchor="middle" font-size="10" transform="rotate(-90 13.40 307.05)"><tspan>Predicted m</tspan><tspan font-size="6.8" dy="2.5">s</tspan><tspan dy="-2.5"> (μ</tspan><tspan font-size="6.8" dy="2.5">B</tspan><tspan dy="-2.5">/atom)</tspan></text>
<text x="-0.30" y="220.70" font-size="12.2">(d)</text>
<circle cx="55.80" cy="242.30" r="2.3" fill="#8dd7f2"/>
<text x="68.40" y="245.00" font-size="8.8">Train</text>
<circle cx="55.80" cy="253.10" r="2.3" fill="#ee7d22"/>
<text x="68.40" y="255.80" font-size="8.8">Validation</text>
<circle cx="55.80" cy="263.90" r="2.3" fill="#a345f5"/>
<text x="68.40" y="266.60" font-size="8.8">Test</text>
<path d="M265.30,232.00 C267.20,231.70 272.85,231.28 276.70,230.20 C280.55,229.12 285.10,226.67 288.40,225.50 C291.70,224.33 293.58,223.68 296.50,223.20 C299.42,222.72 302.98,222.60 305.90,222.60 C308.82,222.60 311.48,222.80 314.00,223.20 C316.52,223.60 318.67,224.42 321.00,225.00 C323.33,225.58 324.00,226.18 328.00,226.70 C332.00,227.22 338.00,227.53 345.00,228.10 C352.00,228.67 360.83,229.52 370.00,230.10 C379.17,230.68 386.70,231.27 400.00,231.60 C413.30,231.93 441.50,232.02 449.80,232.10 L449.80,232.10 L265.30,232.10 Z" fill="#1e99ff" fill-opacity="0.6" stroke="none"/>
<path d="M265.30,232.10 C267.75,232.02 276.22,232.02 280.00,231.60 C283.78,231.18 283.68,230.32 288.00,229.60 C292.32,228.88 300.40,228.07 305.90,227.30 C311.40,226.53 316.15,225.30 321.00,225.00 C325.85,224.70 328.50,225.18 335.00,225.50 C341.50,225.82 351.23,226.40 360.00,226.90 C368.77,227.40 378.43,228.00 387.60,228.50 C396.77,229.00 406.27,229.43 415.00,229.90 C423.73,230.37 434.20,230.95 440.00,231.30 C445.80,231.65 448.17,231.88 449.80,232.00 L449.80,232.10 L265.30,232.10 Z" fill="#e2860c" fill-opacity="0.7" stroke="none"/>
<path d="M265.30,231.80 C266.08,231.52 268.10,231.05 270.00,230.10 C271.90,229.15 274.70,227.52 276.70,226.10 C278.70,224.68 280.05,223.15 282.00,221.60 C283.95,220.05 285.98,218.18 288.40,216.80 C290.82,215.42 293.58,213.40 296.50,213.30 C299.42,213.20 302.98,214.75 305.90,216.20 C308.82,217.65 311.48,220.35 314.00,222.00 C316.52,223.65 318.67,224.73 321.00,226.10 C323.33,227.47 324.83,229.28 328.00,230.20 C331.17,231.12 331.33,231.32 340.00,231.60 C348.67,231.88 370.33,231.97 380.00,231.90 C389.67,231.83 391.33,231.20 398.00,231.20 C404.67,231.20 411.37,231.75 420.00,231.90 C428.63,232.05 444.83,232.07 449.80,232.10 L449.80,232.10 L265.30,232.10 Z" fill="#b157f7" fill-opacity="0.6" stroke="none"/>
<path d="M277.00,233.30V377.90M311.50,233.30V377.90M346.00,233.30V377.90M380.50,233.30V377.90M415.00,233.30V377.90M269.00,372.11H449.00M269.00,344.25H449.00M269.00,316.39H449.00M269.00,288.52H449.00M269.00,260.66H449.00" stroke="#c8c8c8" stroke-width="0.8" stroke-dasharray="1.3 1.55" fill="none"/>
<circle cx="283.9" cy="350.7" r="2.2" fill="#8dd7f2"/>
<circle cx="287.6" cy="352.2" r="2.2" fill="#8dd7f2"/>
<circle cx="304.4" cy="334.6" r="2.2" fill="#8dd7f2"/>
<circle cx="294.9" cy="352.9" r="2.2" fill="#8dd7f2"/>
<circle cx="287.6" cy="358.8" r="2.2" fill="#8dd7f2"/>
<circle cx="304.4" cy="345.6" r="2.2" fill="#8dd7f2"/>
<circle cx="316.1" cy="331.0" r="2.2" fill="#8dd7f2"/>
<circle cx="321.2" cy="331.7" r="2.2" fill="#8dd7f2"/>
<circle cx="328.5" cy="328.0" r="2.2" fill="#8dd7f2"/>
<circle cx="313.9" cy="342.0" r="2.2" fill="#8dd7f2"/>
<circle cx="318.3" cy="336.8" r="2.2" fill="#8dd7f2"/>
<circle cx="278.8" cy="370.5" r="2.2" fill="#8dd7f2"/>
<circle cx="277.3" cy="372.7" r="2.2" fill="#8dd7f2"/>
<circle cx="372.7" cy="282.9" r="2.2" fill="#8dd7f2"/>
<circle cx="365.4" cy="295.4" r="2.2" fill="#8dd7f2"/>
<circle cx="368.3" cy="294.6" r="2.2" fill="#8dd7f2"/>
<circle cx="374.1" cy="298.3" r="2.2" fill="#8dd7f2"/>
<circle cx="371.2" cy="291.7" r="2.2" fill="#8dd7f2"/>
<circle cx="377.8" cy="288.8" r="2.2" fill="#8dd7f2"/>
<circle cx="356.6" cy="302.0" r="2.2" fill="#8dd7f2"/>
<circle cx="347.8" cy="303.4" r="2.2" fill="#8dd7f2"/>
<circle cx="372.7" cy="309.3" r="2.2" fill="#8dd7f2"/>
<circle cx="355.9" cy="311.5" r="2.2" fill="#8dd7f2"/>
<circle cx="350.7" cy="309.3" r="2.2" fill="#8dd7f2"/>
<circle cx="344.1" cy="314.4" r="2.2" fill="#8dd7f2"/>
<circle cx="345.6" cy="315.9" r="2.2" fill="#8dd7f2"/>
<circle cx="342.0" cy="317.3" r="2.2" fill="#8dd7f2"/>
<circle cx="331.0" cy="317.3" r="2.2" fill="#8dd7f2"/>
<circle cx="350.7" cy="325.4" r="2.2" fill="#8dd7f2"/>
<circle cx="333.2" cy="323.9" r="2.2" fill="#8dd7f2"/>
<circle cx="328.8" cy="329.8" r="2.2" fill="#8dd7f2"/>
<circle cx="335.4" cy="334.9" r="2.2" fill="#8dd7f2"/>
<circle cx="322.2" cy="332.0" r="2.2" fill="#8dd7f2"/>
<circle cx="326.6" cy="332.0" r="2.2" fill="#8dd7f2"/>
<circle cx="427.8" cy="242.9" r="2.2" fill="#8dd7f2"/>
<circle cx="428.5" cy="246.6" r="2.2" fill="#8dd7f2"/>
<circle cx="422.7" cy="251.0" r="2.2" fill="#8dd7f2"/>
<circle cx="425.6" cy="256.1" r="2.2" fill="#8dd7f2"/>
<circle cx="421.2" cy="256.8" r="2.2" fill="#8dd7f2"/>
<circle cx="417.6" cy="256.8" r="2.2" fill="#8dd7f2"/>
<circle cx="415.4" cy="262.0" r="2.2" fill="#8dd7f2"/>
<circle cx="408.0" cy="254.6" r="2.2" fill="#8dd7f2"/>
<circle cx="401.5" cy="264.1" r="2.2" fill="#8dd7f2"/>
<circle cx="405.1" cy="267.8" r="2.2" fill="#8dd7f2"/>
<circle cx="399.3" cy="271.5" r="2.2" fill="#8dd7f2"/>
<circle cx="405.9" cy="270.7" r="2.2" fill="#8dd7f2"/>
<circle cx="400.0" cy="278.0" r="2.2" fill="#8dd7f2"/>
<circle cx="381.7" cy="272.9" r="2.2" fill="#8dd7f2"/>
<circle cx="387.6" cy="275.9" r="2.2" fill="#8dd7f2"/>
<circle cx="383.9" cy="278.8" r="2.2" fill="#8dd7f2"/>
<circle cx="381.0" cy="280.2" r="2.2" fill="#8dd7f2"/>
<circle cx="384.6" cy="282.4" r="2.2" fill="#8dd7f2"/>
<circle cx="372.9" cy="283.2" r="2.2" fill="#8dd7f2"/>
<circle cx="388.3" cy="285.4" r="2.2" fill="#8dd7f2"/>
<circle cx="378.8" cy="286.8" r="2.2" fill="#8dd7f2"/>
<circle cx="371.5" cy="291.2" r="2.2" fill="#8dd7f2"/>
<circle cx="372.9" cy="294.1" r="2.2" fill="#8dd7f2"/>
<circle cx="393.4" cy="279.5" r="2.2" fill="#8dd7f2"/>
<circle cx="432.4" cy="240.8" r="2.2" fill="#8dd7f2"/>
<circle cx="428.6" cy="243.0" r="2.2" fill="#8dd7f2"/>
<circle cx="431.3" cy="245.7" r="2.2" fill="#8dd7f2"/>
<circle cx="433.5" cy="247.4" r="2.2" fill="#8dd7f2"/>
<circle cx="423.7" cy="251.2" r="2.2" fill="#8dd7f2"/>
<circle cx="429.1" cy="250.1" r="2.2" fill="#8dd7f2"/>
<circle cx="429.7" cy="252.9" r="2.2" fill="#8dd7f2"/>
<circle cx="426.4" cy="255.1" r="2.2" fill="#8dd7f2"/>
<circle cx="407.7" cy="254.5" r="2.2" fill="#8dd7f2"/>
<circle cx="421.5" cy="256.7" r="2.2" fill="#8dd7f2"/>
<circle cx="428.1" cy="257.8" r="2.2" fill="#8dd7f2"/>
<circle cx="417.1" cy="256.7" r="2.2" fill="#8dd7f2"/>
<circle cx="419.3" cy="259.4" r="2.2" fill="#8dd7f2"/>
<circle cx="413.2" cy="259.4" r="2.2" fill="#8dd7f2"/>
<circle cx="416.0" cy="262.2" r="2.2" fill="#8dd7f2"/>
<circle cx="407.2" cy="264.9" r="2.2" fill="#8dd7f2"/>
<circle cx="406.1" cy="270.4" r="2.2" fill="#8dd7f2"/>
<circle cx="284.0" cy="362.2" r="2.2" fill="#8dd7f2"/>
<circle cx="289.5" cy="364.5" r="2.2" fill="#8dd7f2"/>
<circle cx="296.5" cy="358.5" r="2.2" fill="#8dd7f2"/>
<circle cx="282.5" cy="369.8" r="2.2" fill="#8dd7f2"/>
<circle cx="279.0" cy="373.0" r="2.2" fill="#8dd7f2"/>
<circle cx="380.1" cy="280.9" r="2.2" fill="#8dd7f2"/>
<circle cx="382.3" cy="284.2" r="2.2" fill="#8dd7f2"/>
<circle cx="385.6" cy="286.4" r="2.2" fill="#8dd7f2"/>
<circle cx="390.0" cy="283.1" r="2.2" fill="#8dd7f2"/>
<circle cx="384.5" cy="277.6" r="2.2" fill="#8dd7f2"/>
<circle cx="383.4" cy="287.5" r="2.2" fill="#8dd7f2"/>
<circle cx="381.2" cy="278.7" r="2.2" fill="#8dd7f2"/>
<circle cx="299.3" cy="351.5" r="2.2" fill="#ee7d22"/>
<circle cx="300.7" cy="352.2" r="2.2" fill="#ee7d22"/>
<circle cx="310.2" cy="340.5" r="2.2" fill="#ee7d22"/>
<circle cx="311.0" cy="343.4" r="2.2" fill="#ee7d22"/>
<circle cx="313.9" cy="339.0" r="2.2" fill="#ee7d22"/>
<circle cx="316.8" cy="337.6" r="2.2" fill="#ee7d22"/>
<circle cx="318.3" cy="338.3" r="2.2" fill="#ee7d22"/>
<circle cx="322.7" cy="331.7" r="2.2" fill="#ee7d22"/>
<circle cx="324.1" cy="330.2" r="2.2" fill="#ee7d22"/>
<circle cx="322.0" cy="333.9" r="2.2" fill="#ee7d22"/>
<circle cx="327.8" cy="326.6" r="2.2" fill="#ee7d22"/>
<circle cx="375.6" cy="290.2" r="2.2" fill="#ee7d22"/>
<circle cx="378.5" cy="288.8" r="2.2" fill="#ee7d22"/>
<circle cx="369.0" cy="297.6" r="2.2" fill="#ee7d22"/>
<circle cx="360.2" cy="300.5" r="2.2" fill="#ee7d22"/>
<circle cx="362.4" cy="302.0" r="2.2" fill="#ee7d22"/>
<circle cx="353.7" cy="307.1" r="2.2" fill="#ee7d22"/>
<circle cx="342.7" cy="318.8" r="2.2" fill="#ee7d22"/>
<circle cx="336.1" cy="323.9" r="2.2" fill="#ee7d22"/>
<circle cx="331.7" cy="326.8" r="2.2" fill="#ee7d22"/>
<circle cx="330.2" cy="328.3" r="2.2" fill="#ee7d22"/>
<circle cx="323.7" cy="330.5" r="2.2" fill="#ee7d22"/>
<circle cx="322.2" cy="332.7" r="2.2" fill="#ee7d22"/>
<circle cx="412.4" cy="262.7" r="2.2" fill="#ee7d22"/>
<circle cx="411.7" cy="264.1" r="2.2" fill="#ee7d22"/>
<circle cx="395.6" cy="281.0" r="2.2" fill="#ee7d22"/>
<circle cx="378.8" cy="288.3" r="2.2" fill="#ee7d22"/>
<circle cx="375.1" cy="290.5" r="2.2" fill="#ee7d22"/>
<circle cx="370.7" cy="297.8" r="2.2" fill="#ee7d22"/>
<circle cx="436.3" cy="241.9" r="2.2" fill="#ee7d22"/>
<circle cx="431.9" cy="245.2" r="2.2" fill="#ee7d22"/>
<circle cx="412.1" cy="263.3" r="2.2" fill="#ee7d22"/>
<circle cx="298.2" cy="352.0" r="2.2" fill="#ee7d22"/>
<circle cx="300.3" cy="353.0" r="2.2" fill="#ee7d22"/>
<circle cx="401.5" cy="271.5" r="2.2" fill="#a345f5"/>
<circle cx="410.2" cy="267.8" r="2.2" fill="#a345f5"/>
<circle cx="409.9" cy="267.7" r="2.2" fill="#a345f5"/>
<circle cx="275.5" cy="372.0" r="2.2" fill="#a345f5"/>
<circle cx="277.5" cy="370.5" r="2.2" fill="#a345f5"/>
<circle cx="279.5" cy="369.0" r="2.2" fill="#a345f5"/>
<circle cx="281.0" cy="367.4" r="2.2" fill="#a345f5"/>
<circle cx="283.0" cy="366.0" r="2.2" fill="#a345f5"/>
<circle cx="284.8" cy="364.6" r="2.2" fill="#a345f5"/>
<circle cx="286.5" cy="363.5" r="2.2" fill="#a345f5"/>
<circle cx="288.3" cy="361.8" r="2.2" fill="#a345f5"/>
<circle cx="290.0" cy="360.3" r="2.2" fill="#a345f5"/>
<circle cx="292.0" cy="358.6" r="2.2" fill="#a345f5"/>
<circle cx="293.8" cy="357.3" r="2.2" fill="#a345f5"/>
<circle cx="295.6" cy="356.0" r="2.2" fill="#a345f5"/>
<circle cx="297.5" cy="354.8" r="2.2" fill="#a345f5"/>
<circle cx="301.8" cy="349.3" r="2.2" fill="#a345f5"/>
<circle cx="303.5" cy="347.5" r="2.2" fill="#a345f5"/>
<circle cx="305.0" cy="346.0" r="2.2" fill="#a345f5"/>
<circle cx="306.7" cy="344.6" r="2.2" fill="#a345f5"/>
<circle cx="308.4" cy="343.2" r="2.2" fill="#a345f5"/>
<circle cx="310.0" cy="341.5" r="2.2" fill="#a345f5"/>
<circle cx="291.0" cy="357.0" r="2.2" fill="#a345f5"/>
<circle cx="293.0" cy="356.0" r="2.2" fill="#a345f5"/>
<circle cx="301.0" cy="348.0" r="2.2" fill="#a345f5"/>
<circle cx="302.5" cy="346.5" r="2.2" fill="#a345f5"/>
<circle cx="278.5" cy="371.0" r="2.2" fill="#a345f5"/>
<circle cx="285.5" cy="365.5" r="2.2" fill="#a345f5"/>
<line x1="265.50" y1="381.40" x2="449.50" y2="232.80" stroke="#111" stroke-width="1.5" stroke-dasharray="5.6 6.38"/>
<rect x="265.50" y="232.80" width="184.00" height="148.60" fill="none" stroke="#555555" stroke-width="1"/>
<path d="M277.00,381.40V378.20M294.25,381.40V379.60M311.50,381.40V378.20M328.75,381.40V379.60M346.00,381.40V378.20M363.25,381.40V379.60M380.50,381.40V378.20M397.75,381.40V379.60M415.00,381.40V378.20M432.25,381.40V379.60M265.50,372.11H268.70M265.50,358.18H267.30M265.50,344.25H268.70M265.50,330.32H267.30M265.50,316.39H268.70M265.50,302.46H267.30M265.50,288.52H268.70M265.50,274.59H267.30M265.50,260.66H268.70M265.50,246.73H267.30" stroke="#555555" stroke-width="1" fill="none"/>
<text x="277.00" y="391.20" text-anchor="middle" font-size="8.6">0</text>
<text x="311.50" y="391.20" text-anchor="middle" font-size="8.6">30</text>
<text x="346.00" y="391.20" text-anchor="middle" font-size="8.6">60</text>
<text x="380.50" y="391.20" text-anchor="middle" font-size="8.6">90</text>
<text x="415.00" y="391.20" text-anchor="middle" font-size="8.6">120</text>
<text x="449.50" y="391.20" text-anchor="middle" font-size="8.6">150</text>
<text x="262.10" y="374.56" text-anchor="end" font-size="8.6">0</text>
<text x="262.10" y="346.70" text-anchor="end" font-size="8.6">30</text>
<text x="262.10" y="318.84" text-anchor="end" font-size="8.6">60</text>
<text x="262.10" y="290.97" text-anchor="end" font-size="8.6">90</text>
<text x="262.10" y="263.11" text-anchor="end" font-size="8.6">120</text>
<text x="262.10" y="235.25" text-anchor="end" font-size="8.6">150</text>
<text x="357.50" y="407.00" text-anchor="middle" font-size="10"><tspan>Caculated m</tspan><tspan font-size="6.8" dy="2.5">b</tspan><tspan dy="-2.5"> (μ</tspan><tspan font-size="6.8" dy="2.5">B</tspan><tspan dy="-2.5">/atom)</tspan></text>
<text x="241.20" y="307.10" text-anchor="middle" font-size="10" transform="rotate(-90 241.20 307.10)"><tspan>Predicted m</tspan><tspan font-size="6.8" dy="2.5">b</tspan><tspan dy="-2.5"> (μ</tspan><tspan font-size="6.8" dy="2.5">B</tspan><tspan dy="-2.5">/atom)</tspan></text>
<text x="232.00" y="218.60" font-size="12.2">(e)</text>
<circle cx="282.80" cy="242.50" r="2.3" fill="#8dd7f2"/>
<text x="295.40" y="245.20" font-size="8.8">Train</text>
<circle cx="282.80" cy="253.30" r="2.3" fill="#ee7d22"/>
<text x="295.40" y="256.00" font-size="8.8">Validation</text>
<circle cx="282.80" cy="264.10" r="2.3" fill="#a345f5"/>
<text x="295.40" y="266.80" font-size="8.8">Test</text>
<path d="M494.70,230.10 C498.92,230.05 514.62,230.30 520.00,229.80 C525.38,229.30 525.10,228.70 527.00,227.10 C528.90,225.50 530.23,221.97 531.40,220.20 C532.57,218.43 533.07,217.50 534.00,216.50 C534.93,215.50 535.98,214.68 537.00,214.20 C538.02,213.72 538.90,213.60 540.10,213.60 C541.30,213.60 542.88,213.78 544.20,214.20 C545.52,214.62 546.70,215.32 548.00,216.10 C549.30,216.88 550.00,217.65 552.00,218.90 C554.00,220.15 556.33,222.28 560.00,223.60 C563.67,224.92 569.00,226.22 574.00,226.80 C579.00,227.38 584.00,226.88 590.00,227.10 C596.00,227.32 602.50,227.78 610.00,228.10 C617.50,228.42 626.67,228.75 635.00,229.00 C643.33,229.25 652.40,229.42 660.00,229.60 C667.60,229.78 677.17,230.02 680.60,230.10 L680.60,230.10 L494.70,230.10 Z" fill="#1e99ff" fill-opacity="0.6" stroke="none"/>
<path d="M494.70,230.10 C495.55,230.07 497.00,230.22 499.80,229.90 C502.60,229.58 507.60,229.17 511.50,228.20 C515.40,227.23 519.88,225.37 523.20,224.10 C526.52,222.83 529.07,221.45 531.40,220.60 C533.73,219.75 535.60,219.27 537.20,219.00 C538.80,218.73 539.37,218.93 541.00,219.00 C542.63,219.07 544.33,218.93 547.00,219.40 C549.67,219.87 553.17,220.77 557.00,221.80 C560.83,222.83 566.17,224.87 570.00,225.60 C573.83,226.33 576.67,226.23 580.00,226.20 C583.33,226.17 586.37,225.68 590.00,225.40 C593.63,225.12 597.20,224.28 601.80,224.50 C606.40,224.72 612.07,225.95 617.60,226.70 C623.13,227.45 630.43,228.48 635.00,229.00 C639.57,229.52 637.40,229.62 645.00,229.80 C652.60,229.98 674.67,230.05 680.60,230.10 L680.60,230.10 L494.70,230.10 Z" fill="#e2860c" fill-opacity="0.7" stroke="none"/>
<path d="M494.70,230.10 C498.92,230.07 514.67,229.98 520.00,229.90 C525.33,229.82 524.22,230.57 526.70,229.60 C529.18,228.63 532.77,225.98 534.90,224.10 C537.03,222.22 538.15,219.75 539.50,218.30 C540.85,216.85 541.73,216.03 543.00,215.40 C544.27,214.77 545.53,214.32 547.10,214.50 C548.67,214.68 550.75,215.58 552.40,216.50 C554.05,217.42 555.45,219.05 557.00,220.00 C558.55,220.95 560.13,221.90 561.70,222.20 C563.27,222.50 564.68,222.20 566.40,221.80 C568.12,221.40 570.18,220.28 572.00,219.80 C573.82,219.32 575.63,218.85 577.30,218.90 C578.97,218.95 580.25,219.38 582.00,220.10 C583.75,220.82 585.38,221.95 587.80,223.20 C590.22,224.45 593.63,226.58 596.50,227.60 C599.37,228.62 601.08,228.92 605.00,229.30 C608.92,229.68 607.40,229.77 620.00,229.90 C632.60,230.03 670.50,230.07 680.60,230.10 L680.60,230.10 L494.70,230.10 Z" fill="#b157f7" fill-opacity="0.6" stroke="none"/>
<path d="M507.79,231.00V377.00M534.36,231.00V377.00M560.93,231.00V377.00M587.50,231.00V377.00M614.07,231.00V377.00M640.64,231.00V377.00M667.21,231.00V377.00M498.00,369.79H680.00M498.00,348.36H680.00M498.00,326.93H680.00M498.00,305.50H680.00M498.00,284.07H680.00M498.00,262.64H680.00M498.00,241.21H680.00" stroke="#c8c8c8" stroke-width="0.8" stroke-dasharray="1.3 1.55" fill="none"/>
<circle cx="546.1" cy="339.0" r="2.2" fill="#8dd7f2"/>
<circle cx="548.3" cy="336.1" r="2.2" fill="#8dd7f2"/>
<circle cx="549.8" cy="333.9" r="2.2" fill="#8dd7f2"/>
<circle cx="552.7" cy="328.8" r="2.2" fill="#8dd7f2"/>
<circle cx="555.6" cy="328.8" r="2.2" fill="#8dd7f2"/>
<circle cx="557.8" cy="326.6" r="2.2" fill="#8dd7f2"/>
<circle cx="605.6" cy="281.7" r="2.2" fill="#8dd7f2"/>
<circle cx="607.8" cy="284.6" r="2.2" fill="#8dd7f2"/>
<circle cx="608.5" cy="289.0" r="2.2" fill="#8dd7f2"/>
<circle cx="600.5" cy="289.0" r="2.2" fill="#8dd7f2"/>
<circle cx="598.3" cy="294.1" r="2.2" fill="#8dd7f2"/>
<circle cx="593.9" cy="294.1" r="2.2" fill="#8dd7f2"/>
<circle cx="592.4" cy="296.3" r="2.2" fill="#8dd7f2"/>
<circle cx="593.9" cy="300.7" r="2.2" fill="#8dd7f2"/>
<circle cx="584.4" cy="302.2" r="2.2" fill="#8dd7f2"/>
<circle cx="588.1" cy="305.9" r="2.2" fill="#8dd7f2"/>
<circle cx="582.2" cy="306.6" r="2.2" fill="#8dd7f2"/>
<circle cx="579.3" cy="307.3" r="2.2" fill="#8dd7f2"/>
<circle cx="577.1" cy="308.8" r="2.2" fill="#8dd7f2"/>
<circle cx="573.4" cy="310.2" r="2.2" fill="#8dd7f2"/>
<circle cx="572.0" cy="312.4" r="2.2" fill="#8dd7f2"/>
<circle cx="574.1" cy="314.6" r="2.2" fill="#8dd7f2"/>
<circle cx="569.0" cy="316.8" r="2.2" fill="#8dd7f2"/>
<circle cx="567.6" cy="320.5" r="2.2" fill="#8dd7f2"/>
<circle cx="562.4" cy="324.1" r="2.2" fill="#8dd7f2"/>
<circle cx="558.8" cy="325.6" r="2.2" fill="#8dd7f2"/>
<circle cx="552.2" cy="327.8" r="2.2" fill="#8dd7f2"/>
<circle cx="564.6" cy="327.8" r="2.2" fill="#8dd7f2"/>
<circle cx="657.1" cy="243.9" r="2.2" fill="#8dd7f2"/>
<circle cx="661.0" cy="243.9" r="2.2" fill="#8dd7f2"/>
<circle cx="660.2" cy="247.9" r="2.2" fill="#8dd7f2"/>
<circle cx="643.6" cy="251.8" r="2.2" fill="#8dd7f2"/>
<circle cx="650.7" cy="251.0" r="2.2" fill="#8dd7f2"/>
<circle cx="630.9" cy="266.9" r="2.2" fill="#8dd7f2"/>
<circle cx="634.1" cy="266.1" r="2.2" fill="#8dd7f2"/>
<circle cx="633.3" cy="269.3" r="2.2" fill="#8dd7f2"/>
<circle cx="619.8" cy="272.4" r="2.2" fill="#8dd7f2"/>
<circle cx="624.6" cy="270.0" r="2.2" fill="#8dd7f2"/>
<circle cx="627.7" cy="278.8" r="2.2" fill="#8dd7f2"/>
<circle cx="618.2" cy="279.6" r="2.2" fill="#8dd7f2"/>
<circle cx="620.6" cy="283.5" r="2.2" fill="#8dd7f2"/>
<circle cx="615.9" cy="284.3" r="2.2" fill="#8dd7f2"/>
<circle cx="611.1" cy="279.6" r="2.2" fill="#8dd7f2"/>
<circle cx="606.3" cy="282.7" r="2.2" fill="#8dd7f2"/>
<circle cx="607.9" cy="285.9" r="2.2" fill="#8dd7f2"/>
<circle cx="609.5" cy="290.7" r="2.2" fill="#8dd7f2"/>
<circle cx="601.6" cy="289.9" r="2.2" fill="#8dd7f2"/>
<circle cx="604.8" cy="286.7" r="2.2" fill="#8dd7f2"/>
<circle cx="505.5" cy="358.0" r="2.2" fill="#8dd7f2"/>
<circle cx="511.0" cy="357.4" r="2.2" fill="#8dd7f2"/>
<circle cx="513.7" cy="356.9" r="2.2" fill="#8dd7f2"/>
<circle cx="512.1" cy="359.6" r="2.2" fill="#8dd7f2"/>
<circle cx="515.4" cy="359.6" r="2.2" fill="#8dd7f2"/>
<circle cx="518.7" cy="356.3" r="2.2" fill="#8dd7f2"/>
<circle cx="522.0" cy="353.6" r="2.2" fill="#8dd7f2"/>
<circle cx="524.1" cy="352.0" r="2.2" fill="#8dd7f2"/>
<circle cx="527.4" cy="349.8" r="2.2" fill="#8dd7f2"/>
<circle cx="531.8" cy="347.6" r="2.2" fill="#8dd7f2"/>
<circle cx="532.9" cy="345.4" r="2.2" fill="#8dd7f2"/>
<circle cx="522.0" cy="365.1" r="2.2" fill="#8dd7f2"/>
<circle cx="525.2" cy="361.8" r="2.2" fill="#8dd7f2"/>
<circle cx="509.3" cy="370.1" r="2.2" fill="#8dd7f2"/>
<circle cx="517.6" cy="367.9" r="2.2" fill="#8dd7f2"/>
<circle cx="538.4" cy="343.2" r="2.2" fill="#8dd7f2"/>
<circle cx="543.4" cy="339.3" r="2.2" fill="#8dd7f2"/>
<circle cx="543.9" cy="341.0" r="2.2" fill="#8dd7f2"/>
<circle cx="541.2" cy="342.1" r="2.2" fill="#8dd7f2"/>
<circle cx="571.3" cy="316.3" r="2.2" fill="#8dd7f2"/>
<circle cx="573.5" cy="319.6" r="2.2" fill="#8dd7f2"/>
<circle cx="570.2" cy="319.6" r="2.2" fill="#8dd7f2"/>
<circle cx="574.6" cy="313.1" r="2.2" fill="#8dd7f2"/>
<circle cx="577.9" cy="308.7" r="2.2" fill="#8dd7f2"/>
<circle cx="561.5" cy="326.2" r="2.2" fill="#8dd7f2"/>
<circle cx="567.0" cy="327.3" r="2.2" fill="#8dd7f2"/>
<circle cx="565.3" cy="323.0" r="2.2" fill="#8dd7f2"/>
<circle cx="590.2" cy="296.3" r="2.2" fill="#ee7d22"/>
<circle cx="591.7" cy="298.5" r="2.2" fill="#ee7d22"/>
<circle cx="588.8" cy="301.5" r="2.2" fill="#ee7d22"/>
<circle cx="596.8" cy="299.3" r="2.2" fill="#ee7d22"/>
<circle cx="596.1" cy="304.4" r="2.2" fill="#ee7d22"/>
<circle cx="583.7" cy="305.1" r="2.2" fill="#ee7d22"/>
<circle cx="585.1" cy="311.0" r="2.2" fill="#ee7d22"/>
<circle cx="624.6" cy="273.2" r="2.2" fill="#ee7d22"/>
<circle cx="614.3" cy="279.1" r="2.2" fill="#ee7d22"/>
<circle cx="508.8" cy="367.3" r="2.2" fill="#ee7d22"/>
<circle cx="511.0" cy="365.1" r="2.2" fill="#ee7d22"/>
<circle cx="513.2" cy="364.0" r="2.2" fill="#ee7d22"/>
<circle cx="515.4" cy="362.9" r="2.2" fill="#ee7d22"/>
<circle cx="517.6" cy="361.3" r="2.2" fill="#ee7d22"/>
<circle cx="518.1" cy="359.1" r="2.2" fill="#ee7d22"/>
<circle cx="518.7" cy="362.9" r="2.2" fill="#ee7d22"/>
<circle cx="515.4" cy="366.8" r="2.2" fill="#ee7d22"/>
<circle cx="512.6" cy="367.9" r="2.2" fill="#ee7d22"/>
<circle cx="517.0" cy="365.7" r="2.2" fill="#ee7d22"/>
<circle cx="541.7" cy="342.1" r="2.2" fill="#ee7d22"/>
<circle cx="543.9" cy="343.7" r="2.2" fill="#ee7d22"/>
<circle cx="550.5" cy="336.1" r="2.2" fill="#a345f5"/>
<circle cx="552.0" cy="333.2" r="2.2" fill="#a345f5"/>
<circle cx="554.9" cy="325.9" r="2.2" fill="#a345f5"/>
<circle cx="558.5" cy="328.8" r="2.2" fill="#a345f5"/>
<circle cx="578.5" cy="312.4" r="2.2" fill="#a345f5"/>
<circle cx="576.3" cy="314.6" r="2.2" fill="#a345f5"/>
<circle cx="580.0" cy="313.9" r="2.2" fill="#a345f5"/>
<circle cx="566.1" cy="317.6" r="2.2" fill="#a345f5"/>
<circle cx="564.6" cy="322.0" r="2.2" fill="#a345f5"/>
<circle cx="561.7" cy="323.4" r="2.2" fill="#a345f5"/>
<circle cx="559.5" cy="327.1" r="2.2" fill="#a345f5"/>
<circle cx="555.1" cy="325.3" r="2.2" fill="#a345f5"/>
<circle cx="566.8" cy="320.5" r="2.2" fill="#a345f5"/>
<circle cx="522.0" cy="359.1" r="2.2" fill="#a345f5"/>
<circle cx="521.4" cy="362.4" r="2.2" fill="#a345f5"/>
<circle cx="523.6" cy="361.3" r="2.2" fill="#a345f5"/>
<circle cx="524.7" cy="357.4" r="2.2" fill="#a345f5"/>
<circle cx="526.3" cy="356.3" r="2.2" fill="#a345f5"/>
<circle cx="527.4" cy="359.6" r="2.2" fill="#a345f5"/>
<circle cx="525.8" cy="359.6" r="2.2" fill="#a345f5"/>
<circle cx="529.1" cy="354.7" r="2.2" fill="#a345f5"/>
<circle cx="528.0" cy="352.0" r="2.2" fill="#a345f5"/>
<circle cx="530.7" cy="352.0" r="2.2" fill="#a345f5"/>
<circle cx="529.1" cy="350.3" r="2.2" fill="#a345f5"/>
<circle cx="531.8" cy="349.8" r="2.2" fill="#a345f5"/>
<circle cx="534.0" cy="345.9" r="2.2" fill="#a345f5"/>
<circle cx="536.8" cy="349.8" r="2.2" fill="#a345f5"/>
<circle cx="539.0" cy="343.7" r="2.2" fill="#a345f5"/>
<circle cx="523.1" cy="364.0" r="2.2" fill="#a345f5"/>
<line x1="494.50" y1="380.50" x2="680.50" y2="230.50" stroke="#111" stroke-width="1.5" stroke-dasharray="5.6 6.03"/>
<rect x="494.50" y="230.50" width="186.00" height="150.00" fill="none" stroke="#555555" stroke-width="1"/>
<path d="M507.79,380.50V377.30M521.07,380.50V378.70M534.36,380.50V377.30M547.64,380.50V378.70M560.93,380.50V377.30M574.21,380.50V378.70M587.50,380.50V377.30M600.79,380.50V378.70M614.07,380.50V377.30M627.36,380.50V378.70M640.64,380.50V377.30M653.93,380.50V378.70M667.21,380.50V377.30M494.50,369.79H497.70M494.50,359.07H496.30M494.50,348.36H497.70M494.50,337.64H496.30M494.50,326.93H497.70M494.50,316.21H496.30M494.50,305.50H497.70M494.50,294.79H496.30M494.50,284.07H497.70M494.50,273.36H496.30M494.50,262.64H497.70M494.50,251.93H496.30M494.50,241.21H497.70" stroke="#555555" stroke-width="1" fill="none"/>
<text x="507.79" y="390.30" text-anchor="middle" font-size="8.6">0.0</text>
<text x="534.36" y="390.30" text-anchor="middle" font-size="8.6">0.2</text>
<text x="560.93" y="390.30" text-anchor="middle" font-size="8.6">0.4</text>
<text x="587.50" y="390.30" text-anchor="middle" font-size="8.6">0.6</text>
<text x="614.07" y="390.30" text-anchor="middle" font-size="8.6">0.8</text>
<text x="640.64" y="390.30" text-anchor="middle" font-size="8.6">1.0</text>
<text x="667.21" y="390.30" text-anchor="middle" font-size="8.6">1.2</text>
<text x="491.10" y="372.24" text-anchor="end" font-size="8.6">0.0</text>
<text x="491.10" y="350.81" text-anchor="end" font-size="8.6">0.2</text>
<text x="491.10" y="329.38" text-anchor="end" font-size="8.6">0.4</text>
<text x="491.10" y="307.95" text-anchor="end" font-size="8.6">0.6</text>
<text x="491.10" y="286.52" text-anchor="end" font-size="8.6">0.8</text>
<text x="491.10" y="265.09" text-anchor="end" font-size="8.6">1.0</text>
<text x="491.10" y="243.66" text-anchor="end" font-size="8.6">1.2</text>
<text x="588.30" y="404.20" text-anchor="middle" font-size="10"><tspan>Caculated RMSD</tspan><tspan> (Å)</tspan></text>
<text x="475.60" y="305.50" text-anchor="middle" font-size="10" transform="rotate(-90 475.60 305.50)"><tspan>Predicted RMSD</tspan><tspan> (Å)</tspan></text>
<text x="462.50" y="224.90" font-size="12.2">(f)</text>
<circle cx="511.80" cy="240.20" r="2.3" fill="#8dd7f2"/>
<text x="524.40" y="242.90" font-size="8.8">Train</text>
<circle cx="511.80" cy="251.00" r="2.3" fill="#ee7d22"/>
<text x="524.40" y="253.70" font-size="8.8">Validation</text>
<circle cx="511.80" cy="261.80" r="2.3" fill="#a345f5"/>
<text x="524.40" y="264.50" font-size="8.8">Test</text>
</svg>
</body></html>
